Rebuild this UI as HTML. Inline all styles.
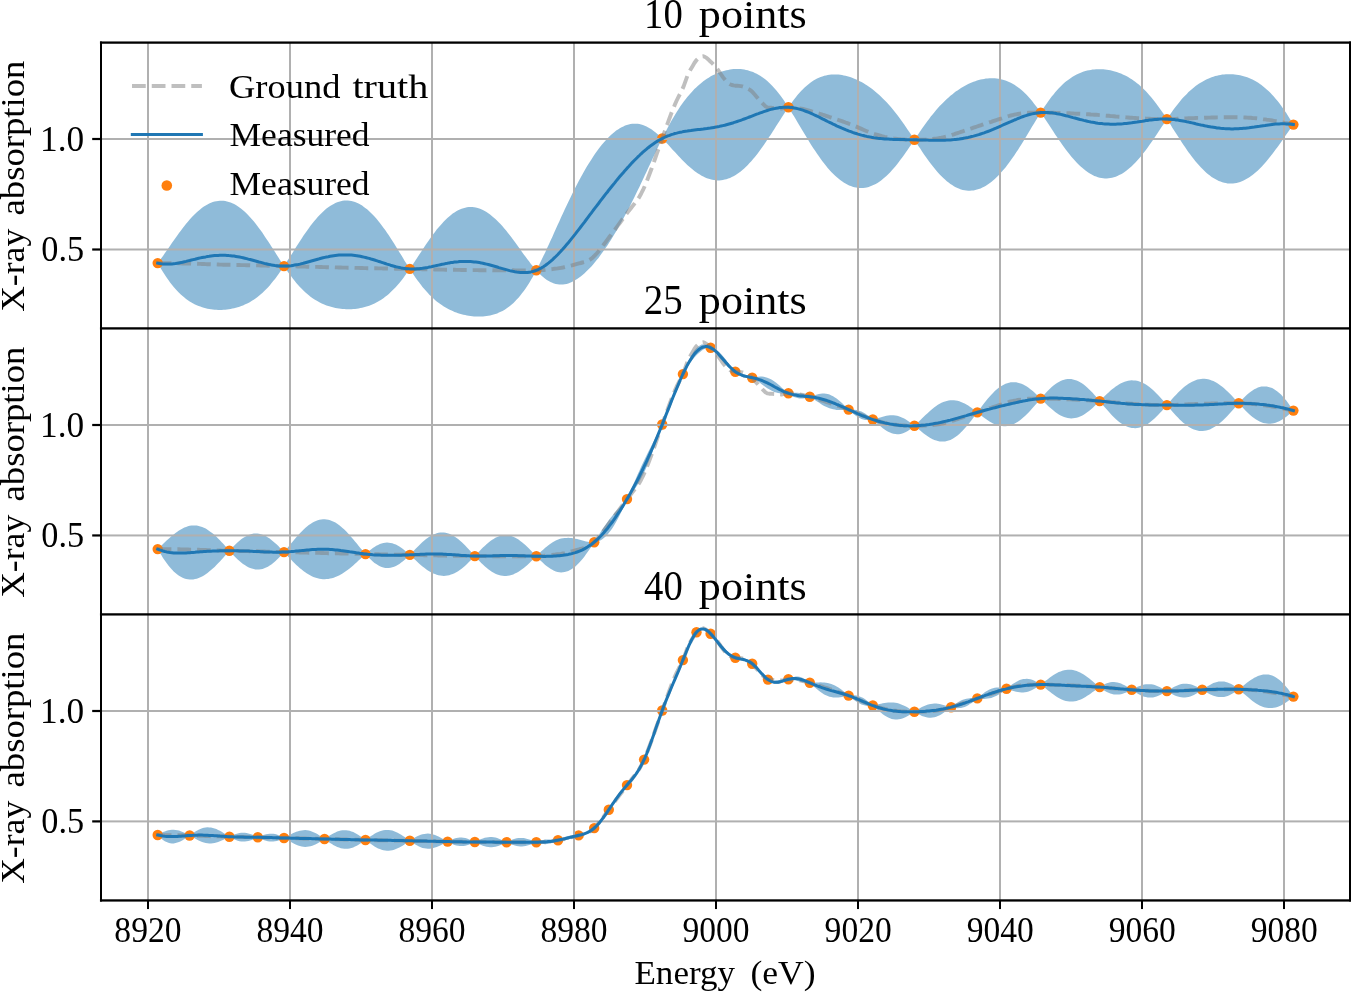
<!DOCTYPE html>
<html lang="en"><head><meta charset="utf-8"><title>Adaptive sampling: 10 / 25 / 40 points</title>
<style>html,body{margin:0;padding:0;background:#fff}svg{display:block}</style></head>
<body>
<svg width="1351" height="993" viewBox="0 0 1351 993" font-family="'Liberation Serif', 'DejaVu Serif', serif" fill="#000">
<rect width="1351" height="993" fill="#fff"/>
<g id="panel1">
<clipPath id="c0"><rect x="101.0" y="42.6" width="1249.0" height="285.80"/></clipPath>
<g clip-path="url(#c0)">
<path d="M157.7 263.1 L159.5 260.8 L161.3 258.3 L163.0 255.9 L164.8 253.3 L166.6 250.8 L168.4 248.2 L170.1 245.7 L171.9 243.1 L173.7 240.6 L175.5 238.0 L177.3 235.5 L179.0 233.1 L180.8 230.7 L182.6 228.3 L184.4 226.0 L186.1 223.8 L187.9 221.7 L189.7 219.6 L191.5 217.6 L193.2 215.7 L195.0 214.0 L196.8 212.3 L198.6 210.7 L200.4 209.2 L202.1 207.8 L203.9 206.6 L205.7 205.5 L207.5 204.4 L209.2 203.5 L211.0 202.8 L212.8 202.1 L214.6 201.6 L216.4 201.2 L218.1 200.9 L219.9 200.7 L221.7 200.7 L223.5 200.8 L225.2 201.0 L227.0 201.4 L228.8 201.9 L230.6 202.5 L232.3 203.2 L234.1 204.1 L235.9 205.1 L237.7 206.2 L239.5 207.4 L241.2 208.7 L243.0 210.2 L244.8 211.8 L246.6 213.5 L248.3 215.3 L250.1 217.2 L251.9 219.2 L253.7 221.3 L255.5 223.5 L257.2 225.8 L259.0 228.2 L260.8 230.6 L262.6 233.1 L264.3 235.7 L266.1 238.4 L267.9 241.0 L269.7 243.8 L271.4 246.5 L273.2 249.3 L275.0 252.1 L276.8 254.9 L278.6 257.7 L280.3 260.5 L282.1 263.2 L283.9 265.9 L285.7 263.6 L287.4 260.8 L289.2 258.0 L291.0 255.2 L292.8 252.4 L294.6 249.6 L296.3 246.7 L298.1 244.0 L299.9 241.2 L301.7 238.5 L303.4 235.8 L305.2 233.2 L307.0 230.7 L308.8 228.2 L310.5 225.8 L312.3 223.5 L314.1 221.3 L315.9 219.2 L317.7 217.1 L319.4 215.2 L321.2 213.4 L323.0 211.7 L324.8 210.1 L326.5 208.6 L328.3 207.2 L330.1 206.0 L331.9 204.9 L333.7 203.9 L335.4 203.0 L337.2 202.3 L339.0 201.7 L340.8 201.2 L342.5 200.8 L344.3 200.6 L346.1 200.5 L347.9 200.6 L349.6 200.8 L351.4 201.1 L353.2 201.5 L355.0 202.1 L356.8 202.8 L358.5 203.6 L360.3 204.6 L362.1 205.6 L363.9 206.9 L365.6 208.2 L367.4 209.6 L369.2 211.2 L371.0 212.9 L372.8 214.7 L374.5 216.6 L376.3 218.6 L378.1 220.7 L379.9 223.0 L381.6 225.3 L383.4 227.7 L385.2 230.1 L387.0 232.7 L388.8 235.3 L390.5 238.0 L392.3 240.8 L394.1 243.6 L395.9 246.4 L397.6 249.3 L399.4 252.2 L401.2 255.1 L403.0 258.0 L404.7 260.9 L406.5 263.7 L408.3 266.6 L410.1 268.5 L411.9 265.9 L413.6 263.2 L415.4 260.5 L417.2 257.8 L419.0 255.1 L420.7 252.4 L422.5 249.7 L424.3 247.0 L426.1 244.3 L427.9 241.7 L429.6 239.2 L431.4 236.7 L433.2 234.3 L435.0 231.9 L436.7 229.6 L438.5 227.5 L440.3 225.4 L442.1 223.4 L443.8 221.5 L445.6 219.7 L447.4 218.0 L449.2 216.4 L451.0 215.0 L452.7 213.6 L454.5 212.4 L456.3 211.3 L458.1 210.3 L459.8 209.5 L461.6 208.7 L463.4 208.2 L465.2 207.7 L467.0 207.3 L468.7 207.1 L470.5 207.1 L472.3 207.1 L474.1 207.3 L475.8 207.6 L477.6 208.0 L479.4 208.6 L481.2 209.3 L482.9 210.1 L484.7 211.0 L486.5 212.0 L488.3 213.2 L490.1 214.5 L491.8 215.9 L493.6 217.4 L495.4 219.0 L497.2 220.7 L498.9 222.5 L500.7 224.3 L502.5 226.3 L504.3 228.4 L506.1 230.5 L507.8 232.7 L509.6 235.0 L511.4 237.3 L513.2 239.7 L514.9 242.1 L516.7 244.5 L518.5 247.0 L520.3 249.4 L522.0 251.9 L523.8 254.4 L525.6 256.8 L527.4 259.2 L529.2 261.6 L530.9 263.9 L532.7 266.1 L534.5 268.2 L536.3 270.3 L538.0 267.0 L539.8 263.4 L541.6 259.8 L543.4 256.1 L545.2 252.4 L546.9 248.5 L548.7 244.7 L550.5 240.8 L552.3 236.9 L554.0 233.0 L555.8 229.0 L557.6 225.1 L559.4 221.2 L561.1 217.3 L562.9 213.4 L564.7 209.6 L566.5 205.8 L568.3 202.1 L570.0 198.4 L571.8 194.7 L573.6 191.1 L575.4 187.6 L577.1 184.2 L578.9 180.8 L580.7 177.5 L582.5 174.3 L584.3 171.1 L586.0 168.1 L587.8 165.1 L589.6 162.2 L591.4 159.4 L593.1 156.7 L594.9 154.1 L596.7 151.5 L598.5 149.1 L600.2 146.8 L602.0 144.6 L603.8 142.5 L605.6 140.4 L607.4 138.5 L609.1 136.7 L610.9 135.0 L612.7 133.4 L614.5 132.0 L616.2 130.6 L618.0 129.4 L619.8 128.3 L621.6 127.3 L623.4 126.4 L625.1 125.6 L626.9 125.0 L628.7 124.5 L630.5 124.1 L632.2 123.8 L634.0 123.7 L635.8 123.7 L637.6 123.8 L639.4 124.1 L641.1 124.5 L642.9 125.0 L644.7 125.7 L646.5 126.5 L648.2 127.4 L650.0 128.4 L651.8 129.6 L653.6 130.9 L655.3 132.3 L657.1 133.8 L658.9 135.3 L660.7 137.0 L662.5 138.0 L664.2 134.4 L666.0 131.0 L667.8 127.6 L669.6 124.3 L671.3 121.1 L673.1 118.0 L674.9 115.0 L676.7 112.1 L678.5 109.3 L680.2 106.6 L682.0 104.1 L683.8 101.6 L685.6 99.3 L687.3 97.0 L689.1 94.9 L690.9 92.9 L692.7 90.9 L694.4 89.1 L696.2 87.4 L698.0 85.7 L699.8 84.2 L701.6 82.7 L703.3 81.3 L705.1 80.0 L706.9 78.8 L708.7 77.7 L710.4 76.6 L712.2 75.6 L714.0 74.7 L715.8 73.9 L717.6 73.1 L719.3 72.4 L721.1 71.8 L722.9 71.2 L724.7 70.7 L726.4 70.2 L728.2 69.9 L730.0 69.6 L731.8 69.3 L733.5 69.1 L735.3 69.0 L737.1 69.0 L738.9 69.0 L740.7 69.1 L742.4 69.3 L744.2 69.6 L746.0 69.9 L747.8 70.3 L749.5 70.9 L751.3 71.4 L753.1 72.1 L754.9 72.9 L756.7 73.8 L758.4 74.7 L760.2 75.8 L762.0 77.0 L763.8 78.2 L765.5 79.6 L767.3 81.1 L769.1 82.7 L770.9 84.5 L772.6 86.3 L774.4 88.2 L776.2 90.3 L778.0 92.5 L779.8 94.8 L781.5 97.1 L783.3 99.6 L785.1 102.2 L786.9 104.9 L788.6 106.9 L790.4 104.4 L792.2 101.9 L794.0 99.5 L795.8 97.3 L797.5 95.1 L799.3 93.0 L801.1 91.1 L802.9 89.2 L804.6 87.5 L806.4 85.9 L808.2 84.4 L810.0 83.0 L811.7 81.7 L813.5 80.6 L815.3 79.5 L817.1 78.6 L818.9 77.8 L820.6 77.0 L822.4 76.4 L824.2 75.8 L826.0 75.4 L827.7 75.0 L829.5 74.7 L831.3 74.6 L833.1 74.4 L834.9 74.4 L836.6 74.5 L838.4 74.6 L840.2 74.8 L842.0 75.0 L843.7 75.4 L845.5 75.7 L847.3 76.2 L849.1 76.7 L850.9 77.3 L852.6 78.0 L854.4 78.7 L856.2 79.4 L858.0 80.3 L859.7 81.2 L861.5 82.1 L863.3 83.1 L865.1 84.2 L866.8 85.3 L868.6 86.5 L870.4 87.8 L872.2 89.1 L874.0 90.5 L875.7 91.9 L877.5 93.5 L879.3 95.1 L881.1 96.7 L882.8 98.4 L884.6 100.2 L886.4 102.1 L888.2 104.0 L890.0 106.0 L891.7 108.1 L893.5 110.3 L895.3 112.5 L897.1 114.7 L898.8 117.1 L900.6 119.5 L902.4 122.0 L904.2 124.5 L905.9 127.1 L907.7 129.7 L909.5 132.3 L911.3 135.0 L913.1 137.7 L914.8 139.2 L916.6 136.5 L918.4 133.9 L920.2 131.3 L921.9 128.7 L923.7 126.2 L925.5 123.7 L927.3 121.3 L929.1 118.9 L930.8 116.6 L932.6 114.4 L934.4 112.2 L936.2 110.1 L937.9 108.1 L939.7 106.1 L941.5 104.2 L943.3 102.4 L945.0 100.7 L946.8 99.0 L948.6 97.4 L950.4 95.8 L952.2 94.4 L953.9 93.0 L955.7 91.6 L957.5 90.4 L959.3 89.2 L961.0 88.0 L962.8 86.9 L964.6 85.9 L966.4 85.0 L968.2 84.1 L969.9 83.3 L971.7 82.5 L973.5 81.8 L975.3 81.2 L977.0 80.6 L978.8 80.1 L980.6 79.6 L982.4 79.2 L984.1 78.9 L985.9 78.6 L987.7 78.4 L989.5 78.3 L991.3 78.2 L993.0 78.2 L994.8 78.3 L996.6 78.5 L998.4 78.7 L1000.1 79.0 L1001.9 79.4 L1003.7 79.9 L1005.5 80.5 L1007.3 81.2 L1009.0 81.9 L1010.8 82.8 L1012.6 83.7 L1014.4 84.8 L1016.1 85.9 L1017.9 87.2 L1019.7 88.6 L1021.5 90.0 L1023.2 91.6 L1025.0 93.3 L1026.8 95.1 L1028.6 97.0 L1030.4 99.0 L1032.1 101.1 L1033.9 103.4 L1035.7 105.7 L1037.5 108.0 L1039.2 110.5 L1041.0 112.1 L1042.8 109.3 L1044.6 106.6 L1046.4 104.0 L1048.1 101.4 L1049.9 99.0 L1051.7 96.6 L1053.5 94.4 L1055.2 92.3 L1057.0 90.2 L1058.8 88.3 L1060.6 86.5 L1062.3 84.8 L1064.1 83.1 L1065.9 81.6 L1067.7 80.2 L1069.5 78.9 L1071.2 77.7 L1073.0 76.6 L1074.8 75.5 L1076.6 74.6 L1078.3 73.7 L1080.1 72.9 L1081.9 72.3 L1083.7 71.6 L1085.5 71.1 L1087.2 70.6 L1089.0 70.2 L1090.8 69.9 L1092.6 69.6 L1094.3 69.4 L1096.1 69.3 L1097.9 69.2 L1099.7 69.2 L1101.5 69.2 L1103.2 69.3 L1105.0 69.5 L1106.8 69.7 L1108.6 70.0 L1110.3 70.3 L1112.1 70.7 L1113.9 71.2 L1115.7 71.7 L1117.4 72.3 L1119.2 72.9 L1121.0 73.6 L1122.8 74.4 L1124.6 75.2 L1126.3 76.1 L1128.1 77.1 L1129.9 78.2 L1131.7 79.3 L1133.4 80.5 L1135.2 81.8 L1137.0 83.2 L1138.8 84.6 L1140.6 86.2 L1142.3 87.8 L1144.1 89.5 L1145.9 91.3 L1147.7 93.2 L1149.4 95.2 L1151.2 97.3 L1153.0 99.5 L1154.8 101.7 L1156.5 104.0 L1158.3 106.5 L1160.1 109.0 L1161.9 111.5 L1163.7 114.1 L1165.4 116.8 L1167.2 118.6 L1169.0 116.0 L1170.8 113.5 L1172.5 111.0 L1174.3 108.6 L1176.1 106.2 L1177.9 103.9 L1179.7 101.7 L1181.4 99.6 L1183.2 97.6 L1185.0 95.7 L1186.8 93.9 L1188.5 92.1 L1190.3 90.5 L1192.1 88.9 L1193.9 87.4 L1195.6 86.0 L1197.4 84.7 L1199.2 83.5 L1201.0 82.4 L1202.8 81.4 L1204.5 80.4 L1206.3 79.5 L1208.1 78.7 L1209.9 77.9 L1211.6 77.3 L1213.4 76.7 L1215.2 76.1 L1217.0 75.7 L1218.8 75.3 L1220.5 74.9 L1222.3 74.6 L1224.1 74.4 L1225.9 74.3 L1227.6 74.2 L1229.4 74.2 L1231.2 74.2 L1233.0 74.3 L1234.7 74.4 L1236.5 74.7 L1238.3 74.9 L1240.1 75.3 L1241.9 75.7 L1243.6 76.2 L1245.4 76.7 L1247.2 77.3 L1249.0 78.0 L1250.7 78.8 L1252.5 79.6 L1254.3 80.6 L1256.1 81.6 L1257.9 82.6 L1259.6 83.8 L1261.4 85.1 L1263.2 86.4 L1265.0 87.9 L1266.7 89.4 L1268.5 91.1 L1270.3 92.8 L1272.1 94.7 L1273.8 96.6 L1275.6 98.7 L1277.4 100.8 L1279.2 103.1 L1281.0 105.4 L1282.7 107.9 L1284.5 110.5 L1286.3 113.1 L1288.1 115.9 L1289.8 118.7 L1291.6 121.6 L1293.4 124.6 L1293.4 124.6 L1291.6 127.0 L1289.8 129.5 L1288.1 132.1 L1286.3 134.6 L1284.5 137.1 L1282.7 139.7 L1281.0 142.2 L1279.2 144.7 L1277.4 147.2 L1275.6 149.6 L1273.8 152.0 L1272.1 154.3 L1270.3 156.6 L1268.5 158.8 L1266.7 161.0 L1265.0 163.0 L1263.2 165.0 L1261.4 166.9 L1259.6 168.7 L1257.9 170.4 L1256.1 172.0 L1254.3 173.6 L1252.5 175.0 L1250.7 176.3 L1249.0 177.5 L1247.2 178.6 L1245.4 179.6 L1243.6 180.5 L1241.9 181.3 L1240.1 181.9 L1238.3 182.5 L1236.5 182.9 L1234.7 183.2 L1233.0 183.4 L1231.2 183.5 L1229.4 183.5 L1227.6 183.4 L1225.9 183.1 L1224.1 182.7 L1222.3 182.2 L1220.5 181.6 L1218.8 180.9 L1217.0 180.1 L1215.2 179.1 L1213.4 178.0 L1211.6 176.9 L1209.9 175.6 L1208.1 174.2 L1206.3 172.7 L1204.5 171.0 L1202.8 169.3 L1201.0 167.5 L1199.2 165.6 L1197.4 163.6 L1195.6 161.5 L1193.9 159.3 L1192.1 157.0 L1190.3 154.6 L1188.5 152.2 L1186.8 149.7 L1185.0 147.1 L1183.2 144.5 L1181.4 141.8 L1179.7 139.1 L1177.9 136.3 L1176.1 133.5 L1174.3 130.7 L1172.5 127.9 L1170.8 125.1 L1169.0 122.3 L1167.2 119.6 L1165.4 121.3 L1163.7 123.9 L1161.9 126.6 L1160.1 129.3 L1158.3 132.0 L1156.5 134.7 L1154.8 137.3 L1153.0 139.9 L1151.2 142.5 L1149.4 145.0 L1147.7 147.5 L1145.9 149.9 L1144.1 152.2 L1142.3 154.5 L1140.6 156.7 L1138.8 158.8 L1137.0 160.8 L1135.2 162.7 L1133.4 164.5 L1131.7 166.2 L1129.9 167.8 L1128.1 169.3 L1126.3 170.7 L1124.6 172.0 L1122.8 173.2 L1121.0 174.2 L1119.2 175.1 L1117.4 176.0 L1115.7 176.7 L1113.9 177.3 L1112.1 177.7 L1110.3 178.1 L1108.6 178.3 L1106.8 178.4 L1105.0 178.4 L1103.2 178.3 L1101.5 178.0 L1099.7 177.7 L1097.9 177.2 L1096.1 176.6 L1094.3 175.9 L1092.6 175.0 L1090.8 174.1 L1089.0 173.0 L1087.2 171.8 L1085.5 170.5 L1083.7 169.1 L1081.9 167.6 L1080.1 166.0 L1078.3 164.3 L1076.6 162.5 L1074.8 160.5 L1073.0 158.5 L1071.2 156.4 L1069.5 154.3 L1067.7 152.0 L1065.9 149.7 L1064.1 147.3 L1062.3 144.8 L1060.6 142.3 L1058.8 139.7 L1057.0 137.1 L1055.2 134.4 L1053.5 131.7 L1051.7 129.0 L1049.9 126.3 L1048.1 123.6 L1046.4 120.9 L1044.6 118.3 L1042.8 115.6 L1041.0 113.0 L1039.2 114.9 L1037.5 117.8 L1035.7 120.7 L1033.9 123.7 L1032.1 126.6 L1030.4 129.6 L1028.6 132.6 L1026.8 135.6 L1025.0 138.5 L1023.2 141.4 L1021.5 144.3 L1019.7 147.1 L1017.9 149.9 L1016.1 152.6 L1014.4 155.2 L1012.6 157.8 L1010.8 160.3 L1009.0 162.8 L1007.3 165.1 L1005.5 167.4 L1003.7 169.5 L1001.9 171.6 L1000.1 173.6 L998.4 175.5 L996.6 177.2 L994.8 178.9 L993.0 180.5 L991.3 182.0 L989.5 183.3 L987.7 184.5 L985.9 185.7 L984.1 186.7 L982.4 187.6 L980.6 188.4 L978.8 189.1 L977.0 189.6 L975.3 190.1 L973.5 190.4 L971.7 190.6 L969.9 190.7 L968.2 190.7 L966.4 190.5 L964.6 190.2 L962.8 189.9 L961.0 189.4 L959.3 188.7 L957.5 188.0 L955.7 187.2 L953.9 186.2 L952.2 185.1 L950.4 183.9 L948.6 182.6 L946.8 181.2 L945.0 179.6 L943.3 178.0 L941.5 176.3 L939.7 174.4 L937.9 172.5 L936.2 170.4 L934.4 168.3 L932.6 166.1 L930.8 163.8 L929.1 161.4 L927.3 158.9 L925.5 156.4 L923.7 153.9 L921.9 151.2 L920.2 148.6 L918.4 145.9 L916.6 143.2 L914.8 140.5 L913.1 141.8 L911.3 144.4 L909.5 147.1 L907.7 149.7 L905.9 152.2 L904.2 154.8 L902.4 157.2 L900.6 159.6 L898.8 162.0 L897.1 164.2 L895.3 166.4 L893.5 168.5 L891.7 170.5 L890.0 172.4 L888.2 174.2 L886.4 175.9 L884.6 177.5 L882.8 179.0 L881.1 180.4 L879.3 181.7 L877.5 182.9 L875.7 183.9 L874.0 184.8 L872.2 185.6 L870.4 186.3 L868.6 186.9 L866.8 187.4 L865.1 187.7 L863.3 187.9 L861.5 188.0 L859.7 188.0 L858.0 187.9 L856.2 187.6 L854.4 187.2 L852.6 186.7 L850.9 186.1 L849.1 185.4 L847.3 184.6 L845.5 183.6 L843.7 182.5 L842.0 181.3 L840.2 180.0 L838.4 178.6 L836.6 177.1 L834.9 175.5 L833.1 173.7 L831.3 171.9 L829.5 169.9 L827.7 167.9 L826.0 165.8 L824.2 163.5 L822.4 161.2 L820.6 158.8 L818.9 156.3 L817.1 153.8 L815.3 151.1 L813.5 148.4 L811.7 145.7 L810.0 142.9 L808.2 140.0 L806.4 137.1 L804.6 134.1 L802.9 131.2 L801.1 128.2 L799.3 125.2 L797.5 122.2 L795.8 119.2 L794.0 116.3 L792.2 113.4 L790.4 110.5 L788.6 107.7 L786.9 109.5 L785.1 112.2 L783.3 114.9 L781.5 117.7 L779.8 120.5 L778.0 123.3 L776.2 126.1 L774.4 128.9 L772.6 131.7 L770.9 134.4 L769.1 137.1 L767.3 139.8 L765.5 142.5 L763.8 145.1 L762.0 147.6 L760.2 150.0 L758.4 152.4 L756.7 154.7 L754.9 157.0 L753.1 159.1 L751.3 161.2 L749.5 163.1 L747.8 165.0 L746.0 166.7 L744.2 168.4 L742.4 170.0 L740.7 171.4 L738.9 172.8 L737.1 174.0 L735.3 175.2 L733.5 176.2 L731.8 177.1 L730.0 177.9 L728.2 178.6 L726.4 179.2 L724.7 179.6 L722.9 180.0 L721.1 180.2 L719.3 180.4 L717.6 180.4 L715.8 180.3 L714.0 180.1 L712.2 179.8 L710.4 179.3 L708.7 178.8 L706.9 178.2 L705.1 177.4 L703.3 176.6 L701.6 175.7 L699.8 174.6 L698.0 173.5 L696.2 172.3 L694.4 171.0 L692.7 169.6 L690.9 168.1 L689.1 166.5 L687.3 164.9 L685.6 163.2 L683.8 161.5 L682.0 159.7 L680.2 157.8 L678.5 156.0 L676.7 154.1 L674.9 152.1 L673.1 150.2 L671.3 148.2 L669.6 146.3 L667.8 144.3 L666.0 142.4 L664.2 140.6 L662.5 138.8 L660.7 141.6 L658.9 145.3 L657.1 149.0 L655.3 152.8 L653.6 156.6 L651.8 160.4 L650.0 164.2 L648.2 168.0 L646.5 171.8 L644.7 175.6 L642.9 179.4 L641.1 183.2 L639.4 186.9 L637.6 190.6 L635.8 194.3 L634.0 197.9 L632.2 201.5 L630.5 205.0 L628.7 208.5 L626.9 211.9 L625.1 215.2 L623.4 218.5 L621.6 221.8 L619.8 225.0 L618.0 228.1 L616.2 231.2 L614.5 234.1 L612.7 237.1 L610.9 239.9 L609.1 242.7 L607.4 245.4 L605.6 248.1 L603.8 250.6 L602.0 253.1 L600.2 255.5 L598.5 257.9 L596.7 260.1 L594.9 262.3 L593.1 264.4 L591.4 266.4 L589.6 268.3 L587.8 270.1 L586.0 271.8 L584.3 273.5 L582.5 275.0 L580.7 276.5 L578.9 277.8 L577.1 279.0 L575.4 280.1 L573.6 281.1 L571.8 282.0 L570.0 282.7 L568.3 283.4 L566.5 283.9 L564.7 284.2 L562.9 284.5 L561.1 284.5 L559.4 284.5 L557.6 284.3 L555.8 283.9 L554.0 283.4 L552.3 282.8 L550.5 282.0 L548.7 281.0 L546.9 279.9 L545.2 278.7 L543.4 277.3 L541.6 275.7 L539.8 274.0 L538.0 272.2 L536.3 270.4 L534.5 273.7 L532.7 276.9 L530.9 280.0 L529.2 282.9 L527.4 285.7 L525.6 288.4 L523.8 290.9 L522.0 293.3 L520.3 295.6 L518.5 297.7 L516.7 299.6 L514.9 301.5 L513.2 303.2 L511.4 304.7 L509.6 306.2 L507.8 307.5 L506.1 308.8 L504.3 309.9 L502.5 310.9 L500.7 311.8 L498.9 312.6 L497.2 313.4 L495.4 314.0 L493.6 314.6 L491.8 315.1 L490.1 315.5 L488.3 315.8 L486.5 316.1 L484.7 316.3 L482.9 316.5 L481.2 316.6 L479.4 316.6 L477.6 316.6 L475.8 316.6 L474.1 316.5 L472.3 316.3 L470.5 316.1 L468.7 315.8 L467.0 315.5 L465.2 315.1 L463.4 314.7 L461.6 314.3 L459.8 313.7 L458.1 313.2 L456.3 312.6 L454.5 311.9 L452.7 311.1 L451.0 310.3 L449.2 309.5 L447.4 308.5 L445.6 307.5 L443.8 306.5 L442.1 305.3 L440.3 304.1 L438.5 302.8 L436.7 301.4 L435.0 299.9 L433.2 298.3 L431.4 296.6 L429.6 294.9 L427.9 293.0 L426.1 291.1 L424.3 289.0 L422.5 286.9 L420.7 284.6 L419.0 282.3 L417.2 279.9 L415.4 277.4 L413.6 274.8 L411.9 272.1 L410.1 269.4 L408.3 271.1 L406.5 273.6 L404.7 276.0 L403.0 278.4 L401.2 280.7 L399.4 282.9 L397.6 284.9 L395.9 286.9 L394.1 288.8 L392.3 290.6 L390.5 292.3 L388.8 293.9 L387.0 295.4 L385.2 296.8 L383.4 298.2 L381.6 299.4 L379.9 300.5 L378.1 301.6 L376.3 302.6 L374.5 303.4 L372.8 304.3 L371.0 305.0 L369.2 305.7 L367.4 306.3 L365.6 306.8 L363.9 307.3 L362.1 307.8 L360.3 308.1 L358.5 308.4 L356.8 308.7 L355.0 308.9 L353.2 309.1 L351.4 309.2 L349.6 309.2 L347.9 309.2 L346.1 309.2 L344.3 309.1 L342.5 309.0 L340.8 308.8 L339.0 308.6 L337.2 308.3 L335.4 308.0 L333.7 307.6 L331.9 307.1 L330.1 306.6 L328.3 306.1 L326.5 305.5 L324.8 304.8 L323.0 304.0 L321.2 303.2 L319.4 302.3 L317.7 301.3 L315.9 300.3 L314.1 299.2 L312.3 298.0 L310.5 296.7 L308.8 295.3 L307.0 293.8 L305.2 292.2 L303.4 290.5 L301.7 288.8 L299.9 286.9 L298.1 284.9 L296.3 282.9 L294.6 280.7 L292.8 278.5 L291.0 276.1 L289.2 273.7 L287.4 271.2 L285.7 268.6 L283.9 266.3 L282.1 268.9 L280.3 271.5 L278.6 274.1 L276.8 276.5 L275.0 278.9 L273.2 281.1 L271.4 283.3 L269.7 285.4 L267.9 287.4 L266.1 289.2 L264.3 291.0 L262.6 292.7 L260.8 294.3 L259.0 295.8 L257.2 297.2 L255.5 298.5 L253.7 299.7 L251.9 300.8 L250.1 301.9 L248.3 302.9 L246.6 303.8 L244.8 304.6 L243.0 305.4 L241.2 306.1 L239.5 306.7 L237.7 307.3 L235.9 307.8 L234.1 308.2 L232.3 308.6 L230.6 309.0 L228.8 309.2 L227.0 309.5 L225.2 309.7 L223.5 309.8 L221.7 309.9 L219.9 309.9 L218.1 309.9 L216.4 309.8 L214.6 309.7 L212.8 309.5 L211.0 309.3 L209.2 309.0 L207.5 308.7 L205.7 308.3 L203.9 307.8 L202.1 307.2 L200.4 306.6 L198.6 306.0 L196.8 305.2 L195.0 304.4 L193.2 303.5 L191.5 302.5 L189.7 301.4 L187.9 300.2 L186.1 298.9 L184.4 297.5 L182.6 296.0 L180.8 294.4 L179.0 292.7 L177.3 290.9 L175.5 289.0 L173.7 286.9 L171.9 284.7 L170.1 282.4 L168.4 280.0 L166.6 277.5 L164.8 274.8 L163.0 272.1 L161.3 269.2 L159.5 266.2 L157.7 263.1 Z" fill="#1f77b4" fill-opacity="0.5"/>
<circle cx="157.7" cy="263.1" r="5.2" fill="#ff7f0e"/>
<circle cx="284.0" cy="266.1" r="5.2" fill="#ff7f0e"/>
<circle cx="409.8" cy="268.9" r="5.2" fill="#ff7f0e"/>
<circle cx="536.3" cy="270.3" r="5.2" fill="#ff7f0e"/>
<circle cx="662.2" cy="138.5" r="5.2" fill="#ff7f0e"/>
<circle cx="788.4" cy="107.3" r="5.2" fill="#ff7f0e"/>
<circle cx="914.4" cy="139.8" r="5.2" fill="#ff7f0e"/>
<circle cx="1040.7" cy="112.6" r="5.2" fill="#ff7f0e"/>
<circle cx="1166.9" cy="119.1" r="5.2" fill="#ff7f0e"/>
<circle cx="1293.4" cy="124.6" r="5.2" fill="#ff7f0e"/>
<rect x="147" y="42.6" width="2.0" height="285.80" fill="#b0b0b0"/>
<rect x="289" y="42.6" width="2.0" height="285.80" fill="#b0b0b0"/>
<rect x="431" y="42.6" width="2.0" height="285.80" fill="#b0b0b0"/>
<rect x="573" y="42.6" width="2.0" height="285.80" fill="#b0b0b0"/>
<rect x="715" y="42.6" width="2.0" height="285.80" fill="#b0b0b0"/>
<rect x="857" y="42.6" width="2.0" height="285.80" fill="#b0b0b0"/>
<rect x="999" y="42.6" width="2.0" height="285.80" fill="#b0b0b0"/>
<rect x="1141" y="42.6" width="2.0" height="285.80" fill="#b0b0b0"/>
<rect x="1283" y="42.6" width="2.0" height="285.80" fill="#b0b0b0"/>
<rect x="101.0" y="138.00" width="1249.0" height="2.0" fill="#b0b0b0"/>
<rect x="101.0" y="248.50" width="1249.0" height="2.0" fill="#b0b0b0"/>
<path d="M157.7 263.1 L159.5 263.1 L161.3 263.1 L163.0 263.2 L164.8 263.2 L166.6 263.2 L168.4 263.2 L170.1 263.2 L171.9 263.3 L173.7 263.3 L175.5 263.3 L177.3 263.4 L179.0 263.4 L180.8 263.4 L182.6 263.5 L184.4 263.5 L186.1 263.5 L187.9 263.6 L189.7 263.6 L191.5 263.7 L193.2 263.7 L195.0 263.8 L196.8 263.8 L198.6 263.9 L200.4 263.9 L202.1 264.0 L203.9 264.0 L205.7 264.1 L207.5 264.2 L209.2 264.2 L211.0 264.3 L212.8 264.3 L214.6 264.4 L216.4 264.4 L218.1 264.5 L219.9 264.6 L221.7 264.6 L223.5 264.7 L225.2 264.7 L227.0 264.8 L228.8 264.8 L230.6 264.8 L232.3 264.9 L234.1 264.9 L235.9 265.0 L237.7 265.0 L239.5 265.0 L241.2 265.1 L243.0 265.1 L244.8 265.1 L246.6 265.2 L248.3 265.2 L250.1 265.2 L251.9 265.3 L253.7 265.3 L255.5 265.4 L257.2 265.4 L259.0 265.4 L260.8 265.5 L262.6 265.5 L264.3 265.6 L266.1 265.6 L267.9 265.7 L269.7 265.7 L271.4 265.8 L273.2 265.8 L275.0 265.9 L276.8 265.9 L278.6 266.0 L280.3 266.0 L282.1 266.1 L283.9 266.1 L285.7 266.2 L287.4 266.2 L289.2 266.2 L291.0 266.3 L292.8 266.3 L294.6 266.4 L296.3 266.4 L298.1 266.5 L299.9 266.5 L301.7 266.6 L303.4 266.6 L305.2 266.6 L307.0 266.7 L308.8 266.7 L310.5 266.8 L312.3 266.8 L314.1 266.9 L315.9 266.9 L317.7 266.9 L319.4 267.0 L321.2 267.0 L323.0 267.1 L324.8 267.1 L326.5 267.2 L328.3 267.2 L330.1 267.3 L331.9 267.3 L333.7 267.3 L335.4 267.4 L337.2 267.4 L339.0 267.5 L340.8 267.5 L342.5 267.6 L344.3 267.6 L346.1 267.6 L347.9 267.7 L349.6 267.7 L351.4 267.8 L353.2 267.8 L355.0 267.9 L356.8 267.9 L358.5 267.9 L360.3 268.0 L362.1 268.0 L363.9 268.1 L365.6 268.1 L367.4 268.2 L369.2 268.2 L371.0 268.2 L372.8 268.3 L374.5 268.3 L376.3 268.3 L378.1 268.4 L379.9 268.4 L381.6 268.4 L383.4 268.5 L385.2 268.5 L387.0 268.5 L388.8 268.6 L390.5 268.6 L392.3 268.6 L394.1 268.6 L395.9 268.7 L397.6 268.7 L399.4 268.7 L401.2 268.8 L403.0 268.8 L404.7 268.8 L406.5 268.9 L408.3 268.9 L410.1 268.9 L411.9 269.0 L413.6 269.0 L415.4 269.0 L417.2 269.1 L419.0 269.1 L420.7 269.1 L422.5 269.2 L424.3 269.2 L426.1 269.3 L427.9 269.3 L429.6 269.3 L431.4 269.4 L433.2 269.4 L435.0 269.5 L436.7 269.5 L438.5 269.5 L440.3 269.6 L442.1 269.6 L443.8 269.6 L445.6 269.7 L447.4 269.7 L449.2 269.7 L451.0 269.8 L452.7 269.8 L454.5 269.8 L456.3 269.9 L458.1 269.9 L459.8 269.9 L461.6 270.0 L463.4 270.0 L465.2 270.0 L467.0 270.0 L468.7 270.0 L470.5 270.1 L472.3 270.1 L474.1 270.1 L475.8 270.1 L477.6 270.1 L479.4 270.2 L481.2 270.2 L482.9 270.2 L484.7 270.2 L486.5 270.2 L488.3 270.2 L490.1 270.2 L491.8 270.2 L493.6 270.3 L495.4 270.3 L497.2 270.3 L498.9 270.3 L500.7 270.3 L502.5 270.3 L504.3 270.3 L506.1 270.3 L507.8 270.3 L509.6 270.3 L511.4 270.3 L513.2 270.3 L514.9 270.4 L516.7 270.4 L518.5 270.4 L520.3 270.4 L522.0 270.4 L523.8 270.4 L525.6 270.4 L527.4 270.3 L529.2 270.3 L530.9 270.3 L532.7 270.3 L534.5 270.3 L536.3 270.3 L538.0 270.3 L539.8 270.2 L541.6 270.1 L543.4 270.0 L545.2 269.9 L546.9 269.7 L548.7 269.5 L550.5 269.3 L552.3 269.1 L554.0 268.8 L555.8 268.6 L557.6 268.4 L559.4 268.1 L561.1 267.8 L562.9 267.5 L564.7 267.1 L566.5 266.7 L568.3 266.3 L570.0 265.8 L571.8 265.4 L573.6 264.9 L575.4 264.4 L577.1 263.9 L578.9 263.4 L580.7 263.0 L582.5 262.5 L584.3 262.1 L586.0 261.5 L587.8 260.8 L589.6 259.9 L591.4 258.7 L593.1 257.2 L594.9 255.4 L596.7 253.5 L598.5 251.4 L600.2 249.1 L602.0 246.9 L603.8 244.5 L605.6 242.1 L607.4 239.7 L609.1 237.3 L610.9 235.0 L612.7 232.6 L614.5 230.2 L616.2 227.8 L618.0 225.4 L619.8 223.0 L621.6 220.5 L623.4 218.1 L625.1 215.7 L626.9 213.3 L628.7 210.9 L630.5 208.7 L632.2 206.5 L634.0 204.3 L635.8 202.0 L637.6 199.5 L639.4 196.8 L641.1 193.7 L642.9 190.2 L644.7 186.3 L646.5 182.0 L648.2 177.5 L650.0 172.8 L651.8 168.0 L653.6 163.0 L655.3 158.0 L657.1 152.9 L658.9 147.8 L660.7 142.8 L662.5 137.8 L664.2 132.8 L666.0 127.8 L667.8 122.9 L669.6 118.0 L671.3 113.3 L673.1 108.9 L674.9 104.6 L676.7 100.5 L678.5 96.9 L680.2 93.6 L682.0 90.0 L683.8 85.9 L685.6 80.9 L687.3 76.0 L689.1 72.3 L690.9 68.9 L692.7 65.9 L694.4 63.0 L696.2 60.5 L698.0 58.7 L699.8 57.5 L701.6 56.5 L703.3 56.2 L705.1 57.0 L706.9 58.2 L708.7 59.8 L710.4 61.5 L712.2 63.2 L714.0 65.0 L715.8 67.0 L717.6 69.3 L719.3 71.8 L721.1 74.5 L722.9 77.1 L724.7 79.4 L726.4 81.5 L728.2 83.2 L730.0 84.3 L731.8 85.0 L733.5 85.4 L735.3 85.7 L737.1 85.8 L738.9 85.9 L740.7 86.1 L742.4 86.4 L744.2 87.0 L746.0 87.8 L747.8 88.7 L749.5 89.6 L751.3 90.8 L753.1 92.7 L754.9 94.8 L756.7 96.9 L758.4 98.8 L760.2 100.8 L762.0 102.7 L763.8 104.7 L765.5 106.4 L767.3 107.4 L769.1 107.7 L770.9 107.8 L772.6 107.9 L774.4 108.0 L776.2 108.1 L778.0 108.3 L779.8 108.4 L781.5 108.5 L783.3 108.2 L785.1 107.7 L786.9 107.4 L788.6 107.3 L790.4 107.4 L792.2 107.5 L794.0 107.6 L795.8 107.8 L797.5 108.1 L799.3 108.4 L801.1 108.7 L802.9 109.0 L804.6 109.4 L806.4 109.8 L808.2 110.3 L810.0 110.8 L811.7 111.4 L813.5 111.9 L815.3 112.4 L817.1 113.0 L818.9 113.5 L820.6 114.1 L822.4 114.7 L824.2 115.2 L826.0 115.8 L827.7 116.4 L829.5 117.0 L831.3 117.6 L833.1 118.2 L834.9 118.8 L836.6 119.4 L838.4 120.0 L840.2 120.6 L842.0 121.2 L843.7 121.8 L845.5 122.5 L847.3 123.1 L849.1 123.8 L850.9 124.4 L852.6 125.1 L854.4 125.9 L856.2 126.6 L858.0 127.4 L859.7 128.1 L861.5 128.9 L863.3 129.7 L865.1 130.5 L866.8 131.2 L868.6 131.9 L870.4 132.6 L872.2 133.3 L874.0 133.9 L875.7 134.5 L877.5 135.0 L879.3 135.5 L881.1 136.0 L882.8 136.5 L884.6 136.9 L886.4 137.2 L888.2 137.6 L890.0 137.9 L891.7 138.2 L893.5 138.5 L895.3 138.7 L897.1 138.9 L898.8 139.1 L900.6 139.3 L902.4 139.4 L904.2 139.5 L905.9 139.6 L907.7 139.7 L909.5 139.7 L911.3 139.8 L913.1 139.8 L914.8 139.8 L916.6 139.8 L918.4 139.8 L920.2 139.7 L921.9 139.7 L923.7 139.6 L925.5 139.6 L927.3 139.5 L929.1 139.3 L930.8 139.2 L932.6 139.0 L934.4 138.8 L936.2 138.6 L937.9 138.3 L939.7 138.0 L941.5 137.7 L943.3 137.3 L945.0 136.9 L946.8 136.5 L948.6 136.0 L950.4 135.4 L952.2 134.8 L953.9 134.3 L955.7 133.7 L957.5 133.1 L959.3 132.5 L961.0 131.9 L962.8 131.3 L964.6 130.7 L966.4 130.1 L968.2 129.5 L969.9 128.9 L971.7 128.3 L973.5 127.7 L975.3 127.1 L977.0 126.5 L978.8 125.9 L980.6 125.3 L982.4 124.7 L984.1 124.1 L985.9 123.5 L987.7 122.9 L989.5 122.3 L991.3 121.8 L993.0 121.2 L994.8 120.6 L996.6 120.0 L998.4 119.4 L1000.1 118.8 L1001.9 118.3 L1003.7 117.7 L1005.5 117.1 L1007.3 116.5 L1009.0 116.0 L1010.8 115.5 L1012.6 115.1 L1014.4 114.7 L1016.1 114.3 L1017.9 114.0 L1019.7 113.7 L1021.5 113.5 L1023.2 113.3 L1025.0 113.1 L1026.8 112.9 L1028.6 112.8 L1030.4 112.7 L1032.1 112.7 L1033.9 112.6 L1035.7 112.6 L1037.5 112.6 L1039.2 112.6 L1041.0 112.6 L1042.8 112.6 L1044.6 112.6 L1046.4 112.7 L1048.1 112.7 L1049.9 112.7 L1051.7 112.8 L1053.5 112.8 L1055.2 112.9 L1057.0 112.9 L1058.8 113.0 L1060.6 113.0 L1062.3 113.1 L1064.1 113.1 L1065.9 113.2 L1067.7 113.3 L1069.5 113.3 L1071.2 113.4 L1073.0 113.5 L1074.8 113.6 L1076.6 113.7 L1078.3 113.8 L1080.1 113.8 L1081.9 113.9 L1083.7 114.0 L1085.5 114.1 L1087.2 114.2 L1089.0 114.3 L1090.8 114.5 L1092.6 114.6 L1094.3 114.7 L1096.1 114.8 L1097.9 114.9 L1099.7 115.1 L1101.5 115.2 L1103.2 115.4 L1105.0 115.5 L1106.8 115.7 L1108.6 115.8 L1110.3 116.0 L1112.1 116.1 L1113.9 116.3 L1115.7 116.5 L1117.4 116.6 L1119.2 116.8 L1121.0 116.9 L1122.8 117.1 L1124.6 117.2 L1126.3 117.4 L1128.1 117.5 L1129.9 117.7 L1131.7 117.8 L1133.4 117.9 L1135.2 118.0 L1137.0 118.1 L1138.8 118.2 L1140.6 118.3 L1142.3 118.4 L1144.1 118.5 L1145.9 118.6 L1147.7 118.7 L1149.4 118.8 L1151.2 118.9 L1153.0 118.9 L1154.8 119.0 L1156.5 119.0 L1158.3 119.1 L1160.1 119.1 L1161.9 119.1 L1163.7 119.1 L1165.4 119.1 L1167.2 119.1 L1169.0 119.0 L1170.8 119.0 L1172.5 119.0 L1174.3 118.9 L1176.1 118.9 L1177.9 118.8 L1179.7 118.7 L1181.4 118.6 L1183.2 118.6 L1185.0 118.5 L1186.8 118.4 L1188.5 118.3 L1190.3 118.2 L1192.1 118.2 L1193.9 118.1 L1195.6 118.0 L1197.4 117.9 L1199.2 117.9 L1201.0 117.8 L1202.8 117.8 L1204.5 117.7 L1206.3 117.7 L1208.1 117.6 L1209.9 117.6 L1211.6 117.5 L1213.4 117.5 L1215.2 117.5 L1217.0 117.4 L1218.8 117.4 L1220.5 117.4 L1222.3 117.3 L1224.1 117.3 L1225.9 117.3 L1227.6 117.3 L1229.4 117.3 L1231.2 117.3 L1233.0 117.3 L1234.7 117.3 L1236.5 117.3 L1238.3 117.3 L1240.1 117.3 L1241.9 117.3 L1243.6 117.4 L1245.4 117.5 L1247.2 117.6 L1249.0 117.7 L1250.7 117.8 L1252.5 118.0 L1254.3 118.1 L1256.1 118.3 L1257.9 118.5 L1259.6 118.7 L1261.4 118.9 L1263.2 119.2 L1265.0 119.4 L1266.7 119.7 L1268.5 119.9 L1270.3 120.2 L1272.1 120.5 L1273.8 120.8 L1275.6 121.1 L1277.4 121.4 L1279.2 121.8 L1281.0 122.1 L1282.7 122.4 L1284.5 122.8 L1286.3 123.1 L1288.1 123.5 L1289.8 123.9 L1291.6 124.2 L1293.4 124.6" fill="none" stroke="#808080" stroke-opacity="0.5" stroke-width="3.9" stroke-dasharray="13.7 6" stroke-linejoin="round"/>
<path d="M157.7 263.1 L159.5 263.5 L161.3 263.8 L163.0 264.0 L164.8 264.1 L166.6 264.1 L168.4 264.1 L170.1 264.1 L171.9 263.9 L173.7 263.7 L175.5 263.5 L177.3 263.2 L179.0 262.9 L180.8 262.6 L182.6 262.2 L184.4 261.8 L186.1 261.4 L187.9 260.9 L189.7 260.5 L191.5 260.0 L193.2 259.6 L195.0 259.2 L196.8 258.7 L198.6 258.3 L200.4 257.9 L202.1 257.5 L203.9 257.2 L205.7 256.9 L207.5 256.5 L209.2 256.3 L211.0 256.0 L212.8 255.8 L214.6 255.6 L216.4 255.5 L218.1 255.4 L219.9 255.3 L221.7 255.3 L223.5 255.3 L225.2 255.3 L227.0 255.4 L228.8 255.6 L230.6 255.7 L232.3 255.9 L234.1 256.1 L235.9 256.4 L237.7 256.7 L239.5 257.0 L241.2 257.4 L243.0 257.8 L244.8 258.2 L246.6 258.6 L248.3 259.1 L250.1 259.5 L251.9 260.0 L253.7 260.5 L255.5 261.0 L257.2 261.5 L259.0 262.0 L260.8 262.4 L262.6 262.9 L264.3 263.4 L266.1 263.8 L267.9 264.2 L269.7 264.6 L271.4 264.9 L273.2 265.2 L275.0 265.5 L276.8 265.7 L278.6 265.9 L280.3 266.0 L282.1 266.1 L283.9 266.1 L285.7 266.1 L287.4 266.0 L289.2 265.9 L291.0 265.7 L292.8 265.4 L294.6 265.1 L296.3 264.8 L298.1 264.5 L299.9 264.1 L301.7 263.6 L303.4 263.2 L305.2 262.7 L307.0 262.2 L308.8 261.7 L310.5 261.2 L312.3 260.7 L314.1 260.2 L315.9 259.7 L317.7 259.2 L319.4 258.8 L321.2 258.3 L323.0 257.8 L324.8 257.4 L326.5 257.0 L328.3 256.7 L330.1 256.3 L331.9 256.0 L333.7 255.7 L335.4 255.5 L337.2 255.3 L339.0 255.1 L340.8 255.0 L342.5 254.9 L344.3 254.9 L346.1 254.9 L347.9 254.9 L349.6 255.0 L351.4 255.1 L353.2 255.3 L355.0 255.5 L356.8 255.7 L358.5 256.0 L360.3 256.3 L362.1 256.7 L363.9 257.1 L365.6 257.5 L367.4 258.0 L369.2 258.4 L371.0 259.0 L372.8 259.5 L374.5 260.0 L376.3 260.6 L378.1 261.2 L379.9 261.7 L381.6 262.3 L383.4 262.9 L385.2 263.5 L387.0 264.1 L388.8 264.6 L390.5 265.2 L392.3 265.7 L394.1 266.2 L395.9 266.7 L397.6 267.1 L399.4 267.5 L401.2 267.9 L403.0 268.2 L404.7 268.4 L406.5 268.7 L408.3 268.8 L410.1 268.9 L411.9 269.0 L413.6 269.0 L415.4 268.9 L417.2 268.8 L419.0 268.7 L420.7 268.5 L422.5 268.3 L424.3 268.0 L426.1 267.7 L427.9 267.4 L429.6 267.0 L431.4 266.7 L433.2 266.3 L435.0 265.9 L436.7 265.5 L438.5 265.1 L440.3 264.7 L442.1 264.3 L443.8 264.0 L445.6 263.6 L447.4 263.3 L449.2 262.9 L451.0 262.6 L452.7 262.4 L454.5 262.1 L456.3 261.9 L458.1 261.8 L459.8 261.6 L461.6 261.5 L463.4 261.4 L465.2 261.4 L467.0 261.4 L468.7 261.5 L470.5 261.6 L472.3 261.7 L474.1 261.9 L475.8 262.1 L477.6 262.3 L479.4 262.6 L481.2 262.9 L482.9 263.3 L484.7 263.7 L486.5 264.1 L488.3 264.5 L490.1 265.0 L491.8 265.5 L493.6 266.0 L495.4 266.5 L497.2 267.0 L498.9 267.6 L500.7 268.1 L502.5 268.6 L504.3 269.1 L506.1 269.6 L507.8 270.1 L509.6 270.6 L511.4 271.0 L513.2 271.4 L514.9 271.8 L516.7 272.1 L518.5 272.3 L520.3 272.5 L522.0 272.6 L523.8 272.6 L525.6 272.6 L527.4 272.5 L529.2 272.2 L530.9 271.9 L532.7 271.5 L534.5 271.0 L536.3 270.3 L538.0 269.6 L539.8 268.7 L541.6 267.8 L543.4 266.7 L545.2 265.5 L546.9 264.2 L548.7 262.9 L550.5 261.4 L552.3 259.8 L554.0 258.2 L555.8 256.5 L557.6 254.7 L559.4 252.8 L561.1 250.9 L562.9 249.0 L564.7 246.9 L566.5 244.8 L568.3 242.7 L570.0 240.6 L571.8 238.4 L573.6 236.1 L575.4 233.9 L577.1 231.6 L578.9 229.3 L580.7 227.0 L582.5 224.6 L584.3 222.3 L586.0 220.0 L587.8 217.6 L589.6 215.2 L591.4 212.9 L593.1 210.5 L594.9 208.2 L596.7 205.8 L598.5 203.5 L600.2 201.2 L602.0 198.8 L603.8 196.5 L605.6 194.2 L607.4 192.0 L609.1 189.7 L610.9 187.5 L612.7 185.3 L614.5 183.1 L616.2 180.9 L618.0 178.7 L619.8 176.6 L621.6 174.5 L623.4 172.5 L625.1 170.4 L626.9 168.4 L628.7 166.5 L630.5 164.5 L632.2 162.6 L634.0 160.8 L635.8 159.0 L637.6 157.2 L639.4 155.5 L641.1 153.8 L642.9 152.2 L644.7 150.7 L646.5 149.2 L648.2 147.7 L650.0 146.3 L651.8 145.0 L653.6 143.7 L655.3 142.5 L657.1 141.4 L658.9 140.3 L660.7 139.3 L662.5 138.4 L664.2 137.5 L666.0 136.7 L667.8 135.9 L669.6 135.3 L671.3 134.6 L673.1 134.1 L674.9 133.5 L676.7 133.1 L678.5 132.6 L680.2 132.2 L682.0 131.9 L683.8 131.5 L685.6 131.2 L687.3 131.0 L689.1 130.7 L690.9 130.5 L692.7 130.2 L694.4 130.0 L696.2 129.8 L698.0 129.6 L699.8 129.4 L701.6 129.2 L703.3 129.0 L705.1 128.7 L706.9 128.5 L708.7 128.2 L710.4 128.0 L712.2 127.7 L714.0 127.4 L715.8 127.1 L717.6 126.7 L719.3 126.4 L721.1 126.0 L722.9 125.6 L724.7 125.2 L726.4 124.7 L728.2 124.2 L730.0 123.7 L731.8 123.2 L733.5 122.7 L735.3 122.1 L737.1 121.5 L738.9 120.9 L740.7 120.3 L742.4 119.7 L744.2 119.0 L746.0 118.3 L747.8 117.7 L749.5 117.0 L751.3 116.3 L753.1 115.6 L754.9 114.9 L756.7 114.2 L758.4 113.6 L760.2 112.9 L762.0 112.3 L763.8 111.7 L765.5 111.1 L767.3 110.5 L769.1 109.9 L770.9 109.4 L772.6 109.0 L774.4 108.6 L776.2 108.2 L778.0 107.9 L779.8 107.6 L781.5 107.4 L783.3 107.3 L785.1 107.2 L786.9 107.2 L788.6 107.3 L790.4 107.4 L792.2 107.6 L794.0 107.9 L795.8 108.2 L797.5 108.6 L799.3 109.1 L801.1 109.6 L802.9 110.2 L804.6 110.8 L806.4 111.5 L808.2 112.2 L810.0 112.9 L811.7 113.7 L813.5 114.5 L815.3 115.3 L817.1 116.2 L818.9 117.0 L820.6 117.9 L822.4 118.8 L824.2 119.7 L826.0 120.6 L827.7 121.5 L829.5 122.3 L831.3 123.2 L833.1 124.1 L834.9 124.9 L836.6 125.8 L838.4 126.6 L840.2 127.4 L842.0 128.2 L843.7 128.9 L845.5 129.7 L847.3 130.4 L849.1 131.1 L850.9 131.7 L852.6 132.4 L854.4 133.0 L856.2 133.5 L858.0 134.1 L859.7 134.6 L861.5 135.1 L863.3 135.5 L865.1 136.0 L866.8 136.4 L868.6 136.7 L870.4 137.1 L872.2 137.4 L874.0 137.7 L875.7 137.9 L877.5 138.2 L879.3 138.4 L881.1 138.6 L882.8 138.7 L884.6 138.9 L886.4 139.0 L888.2 139.1 L890.0 139.2 L891.7 139.3 L893.5 139.4 L895.3 139.4 L897.1 139.5 L898.8 139.5 L900.6 139.6 L902.4 139.6 L904.2 139.6 L905.9 139.7 L907.7 139.7 L909.5 139.7 L911.3 139.7 L913.1 139.8 L914.8 139.8 L916.6 139.8 L918.4 139.9 L920.2 139.9 L921.9 140.0 L923.7 140.0 L925.5 140.1 L927.3 140.1 L929.1 140.2 L930.8 140.2 L932.6 140.2 L934.4 140.3 L936.2 140.3 L937.9 140.3 L939.7 140.3 L941.5 140.2 L943.3 140.2 L945.0 140.2 L946.8 140.1 L948.6 140.0 L950.4 139.9 L952.2 139.7 L953.9 139.6 L955.7 139.4 L957.5 139.2 L959.3 139.0 L961.0 138.7 L962.8 138.4 L964.6 138.1 L966.4 137.7 L968.2 137.4 L969.9 137.0 L971.7 136.5 L973.5 136.1 L975.3 135.6 L977.0 135.1 L978.8 134.6 L980.6 134.0 L982.4 133.4 L984.1 132.8 L985.9 132.1 L987.7 131.5 L989.5 130.8 L991.3 130.1 L993.0 129.4 L994.8 128.6 L996.6 127.9 L998.4 127.1 L1000.1 126.3 L1001.9 125.5 L1003.7 124.7 L1005.5 123.9 L1007.3 123.1 L1009.0 122.3 L1010.8 121.6 L1012.6 120.8 L1014.4 120.0 L1016.1 119.3 L1017.9 118.5 L1019.7 117.8 L1021.5 117.2 L1023.2 116.5 L1025.0 115.9 L1026.8 115.3 L1028.6 114.8 L1030.4 114.3 L1032.1 113.9 L1033.9 113.5 L1035.7 113.2 L1037.5 112.9 L1039.2 112.7 L1041.0 112.6 L1042.8 112.5 L1044.6 112.4 L1046.4 112.5 L1048.1 112.5 L1049.9 112.7 L1051.7 112.8 L1053.5 113.1 L1055.2 113.3 L1057.0 113.7 L1058.8 114.0 L1060.6 114.4 L1062.3 114.8 L1064.1 115.2 L1065.9 115.7 L1067.7 116.1 L1069.5 116.6 L1071.2 117.1 L1073.0 117.6 L1074.8 118.0 L1076.6 118.5 L1078.3 119.0 L1080.1 119.5 L1081.9 119.9 L1083.7 120.4 L1085.5 120.8 L1087.2 121.2 L1089.0 121.6 L1090.8 122.0 L1092.6 122.3 L1094.3 122.6 L1096.1 122.9 L1097.9 123.2 L1099.7 123.4 L1101.5 123.6 L1103.2 123.8 L1105.0 123.9 L1106.8 124.1 L1108.6 124.1 L1110.3 124.2 L1112.1 124.2 L1113.9 124.2 L1115.7 124.2 L1117.4 124.1 L1119.2 124.0 L1121.0 123.9 L1122.8 123.8 L1124.6 123.6 L1126.3 123.4 L1128.1 123.2 L1129.9 123.0 L1131.7 122.8 L1133.4 122.5 L1135.2 122.2 L1137.0 122.0 L1138.8 121.7 L1140.6 121.4 L1142.3 121.2 L1144.1 120.9 L1145.9 120.6 L1147.7 120.4 L1149.4 120.1 L1151.2 119.9 L1153.0 119.7 L1154.8 119.5 L1156.5 119.4 L1158.3 119.2 L1160.1 119.1 L1161.9 119.1 L1163.7 119.0 L1165.4 119.0 L1167.2 119.1 L1169.0 119.2 L1170.8 119.3 L1172.5 119.5 L1174.3 119.6 L1176.1 119.9 L1177.9 120.1 L1179.7 120.4 L1181.4 120.7 L1183.2 121.0 L1185.0 121.4 L1186.8 121.8 L1188.5 122.1 L1190.3 122.5 L1192.1 122.9 L1193.9 123.3 L1195.6 123.8 L1197.4 124.2 L1199.2 124.6 L1201.0 125.0 L1202.8 125.3 L1204.5 125.7 L1206.3 126.1 L1208.1 126.4 L1209.9 126.7 L1211.6 127.1 L1213.4 127.3 L1215.2 127.6 L1217.0 127.9 L1218.8 128.1 L1220.5 128.3 L1222.3 128.4 L1224.1 128.6 L1225.9 128.7 L1227.6 128.8 L1229.4 128.8 L1231.2 128.9 L1233.0 128.9 L1234.7 128.8 L1236.5 128.8 L1238.3 128.7 L1240.1 128.6 L1241.9 128.5 L1243.6 128.3 L1245.4 128.2 L1247.2 128.0 L1249.0 127.8 L1250.7 127.5 L1252.5 127.3 L1254.3 127.1 L1256.1 126.8 L1257.9 126.5 L1259.6 126.3 L1261.4 126.0 L1263.2 125.7 L1265.0 125.5 L1266.7 125.2 L1268.5 124.9 L1270.3 124.7 L1272.1 124.5 L1273.8 124.3 L1275.6 124.1 L1277.4 124.0 L1279.2 123.9 L1281.0 123.8 L1282.7 123.8 L1284.5 123.8 L1286.3 123.9 L1288.1 124.0 L1289.8 124.1 L1291.6 124.3 L1293.4 124.6" fill="none" stroke="#1f77b4" stroke-width="3.0" stroke-linejoin="round" stroke-linecap="square"/>
</g>
<rect x="92.2" y="137.90" width="8.5" height="2.2" fill="#000"/>
<rect x="92.2" y="248.40" width="8.5" height="2.2" fill="#000"/>
</g>
<g id="panel2">
<clipPath id="c1"><rect x="101.0" y="328.4" width="1249.0" height="286.00"/></clipPath>
<g clip-path="url(#c1)">
<path d="M157.7 549.0 L159.5 547.4 L161.3 545.7 L163.0 544.0 L164.8 542.3 L166.6 540.6 L168.4 539.0 L170.1 537.4 L171.9 535.8 L173.7 534.4 L175.5 533.0 L177.3 531.7 L179.0 530.5 L180.8 529.4 L182.6 528.4 L184.4 527.6 L186.1 526.9 L187.9 526.3 L189.7 525.8 L191.5 525.6 L193.2 525.4 L195.0 525.4 L196.8 525.6 L198.6 525.9 L200.4 526.4 L202.1 527.0 L203.9 527.7 L205.7 528.6 L207.5 529.7 L209.2 530.9 L211.0 532.2 L212.8 533.6 L214.6 535.1 L216.4 536.8 L218.1 538.5 L219.9 540.3 L221.7 542.2 L223.5 544.1 L225.2 546.1 L227.0 548.1 L228.8 550.1 L230.6 549.5 L232.3 547.6 L234.1 545.7 L235.9 543.9 L237.7 542.3 L239.5 540.7 L241.2 539.3 L243.0 538.0 L244.8 536.9 L246.6 535.9 L248.3 535.1 L250.1 534.4 L251.9 533.9 L253.7 533.6 L255.5 533.5 L257.2 533.5 L259.0 533.8 L260.8 534.2 L262.6 534.7 L264.3 535.4 L266.1 536.3 L267.9 537.4 L269.7 538.6 L271.4 539.9 L273.2 541.4 L275.0 542.9 L276.8 544.6 L278.6 546.3 L280.3 548.2 L282.1 550.0 L283.9 551.9 L285.7 550.1 L287.4 547.9 L289.2 545.8 L291.0 543.6 L292.8 541.5 L294.6 539.3 L296.3 537.3 L298.1 535.2 L299.9 533.3 L301.7 531.5 L303.4 529.7 L305.2 528.1 L307.0 526.5 L308.8 525.1 L310.5 523.9 L312.3 522.7 L314.1 521.8 L315.9 520.9 L317.7 520.3 L319.4 519.8 L321.2 519.4 L323.0 519.3 L324.8 519.2 L326.5 519.4 L328.3 519.7 L330.1 520.2 L331.9 520.9 L333.7 521.7 L335.4 522.6 L337.2 523.8 L339.0 525.0 L340.8 526.4 L342.5 527.9 L344.3 529.6 L346.1 531.3 L347.9 533.2 L349.6 535.1 L351.4 537.2 L353.2 539.2 L355.0 541.4 L356.8 543.5 L358.5 545.7 L360.3 547.9 L362.1 550.1 L363.9 552.2 L365.6 553.9 L367.4 552.4 L369.2 550.8 L371.0 549.4 L372.8 548.1 L374.5 546.9 L376.3 545.8 L378.1 544.9 L379.9 544.1 L381.6 543.5 L383.4 543.0 L385.2 542.7 L387.0 542.6 L388.8 542.7 L390.5 542.9 L392.3 543.3 L394.1 543.9 L395.9 544.6 L397.6 545.5 L399.4 546.5 L401.2 547.7 L403.0 549.0 L404.7 550.4 L406.5 551.9 L408.3 553.5 L410.1 554.6 L411.9 552.8 L413.6 550.9 L415.4 549.1 L417.2 547.2 L419.0 545.5 L420.7 543.8 L422.5 542.1 L424.3 540.6 L426.1 539.1 L427.9 537.8 L429.6 536.6 L431.4 535.5 L433.2 534.6 L435.0 533.9 L436.7 533.3 L438.5 532.8 L440.3 532.6 L442.1 532.5 L443.8 532.5 L445.6 532.8 L447.4 533.2 L449.2 533.8 L451.0 534.5 L452.7 535.4 L454.5 536.5 L456.3 537.7 L458.1 539.0 L459.8 540.5 L461.6 542.1 L463.4 543.8 L465.2 545.5 L467.0 547.4 L468.7 549.3 L470.5 551.3 L472.3 553.2 L474.1 555.2 L475.8 555.0 L477.6 553.1 L479.4 551.2 L481.2 549.3 L482.9 547.6 L484.7 545.9 L486.5 544.2 L488.3 542.7 L490.1 541.3 L491.8 540.0 L493.6 538.9 L495.4 537.8 L497.2 537.0 L498.9 536.3 L500.7 535.7 L502.5 535.4 L504.3 535.2 L506.1 535.1 L507.8 535.3 L509.6 535.6 L511.4 536.1 L513.2 536.7 L514.9 537.5 L516.7 538.5 L518.5 539.6 L520.3 540.9 L522.0 542.2 L523.8 543.7 L525.6 545.3 L527.4 547.0 L529.2 548.8 L530.9 550.6 L532.7 552.5 L534.5 554.3 L536.3 556.2 L538.0 554.5 L539.8 552.8 L541.6 551.1 L543.4 549.4 L545.2 547.8 L546.9 546.4 L548.7 545.0 L550.5 543.7 L552.3 542.5 L554.0 541.5 L555.8 540.6 L557.6 539.8 L559.4 539.1 L561.1 538.6 L562.9 538.2 L564.7 538.0 L566.5 537.9 L568.3 537.8 L570.0 537.9 L571.8 538.1 L573.6 538.4 L575.4 538.7 L577.1 539.1 L578.9 539.6 L580.7 540.1 L582.5 540.5 L584.3 541.0 L586.0 541.4 L587.8 541.8 L589.6 542.0 L591.4 542.2 L593.1 542.2 L594.9 541.0 L596.7 538.2 L598.5 535.4 L600.2 532.7 L602.0 529.9 L603.8 527.3 L605.6 524.7 L607.4 522.2 L609.1 519.8 L610.9 517.5 L612.7 515.2 L614.5 513.1 L616.2 511.0 L618.0 509.0 L619.8 507.0 L621.6 505.1 L623.4 503.2 L625.1 501.2 L626.9 499.2 L628.7 495.2 L630.5 491.1 L632.2 486.9 L634.0 482.8 L635.8 478.7 L637.6 474.6 L639.4 470.7 L641.1 466.8 L642.9 463.0 L644.7 459.2 L646.5 455.6 L648.2 452.0 L650.0 448.5 L651.8 445.0 L653.6 441.5 L655.3 438.1 L657.1 434.6 L658.9 431.2 L660.7 427.6 L662.5 423.8 L664.2 418.6 L666.0 413.5 L667.8 408.5 L669.6 403.7 L671.3 399.0 L673.1 394.6 L674.9 390.3 L676.7 386.3 L678.5 382.5 L680.2 379.0 L682.0 375.7 L683.8 371.9 L685.6 367.6 L687.3 363.5 L689.1 359.7 L690.9 356.3 L692.7 353.2 L694.4 350.6 L696.2 348.4 L698.0 346.7 L699.8 345.4 L701.6 344.6 L703.3 344.4 L705.1 344.5 L706.9 345.1 L708.7 346.2 L710.4 347.5 L712.2 347.9 L714.0 348.5 L715.8 349.5 L717.6 350.7 L719.3 352.3 L721.1 354.1 L722.9 356.1 L724.7 358.3 L726.4 360.6 L728.2 362.9 L730.0 365.3 L731.8 367.6 L733.5 369.7 L735.3 371.7 L737.1 372.3 L738.9 372.9 L740.7 373.4 L742.4 373.8 L744.2 374.3 L746.0 374.9 L747.8 375.5 L749.5 376.3 L751.3 377.2 L753.1 377.5 L754.9 377.2 L756.7 376.9 L758.4 376.7 L760.2 376.6 L762.0 376.6 L763.8 376.8 L765.5 377.2 L767.3 377.7 L769.1 378.4 L770.9 379.3 L772.6 380.3 L774.4 381.5 L776.2 382.8 L778.0 384.3 L779.8 385.8 L781.5 387.4 L783.3 389.0 L785.1 390.5 L786.9 392.0 L788.6 393.3 L790.4 393.1 L792.2 392.9 L794.0 392.8 L795.8 392.7 L797.5 392.8 L799.3 392.9 L801.1 393.2 L802.9 393.7 L804.6 394.3 L806.4 395.0 L808.2 395.9 L810.0 396.7 L811.7 396.1 L813.5 395.5 L815.3 394.9 L817.1 394.4 L818.9 394.0 L820.6 393.7 L822.4 393.5 L824.2 393.5 L826.0 393.7 L827.7 394.1 L829.5 394.6 L831.3 395.4 L833.1 396.3 L834.9 397.4 L836.6 398.6 L838.4 400.0 L840.2 401.5 L842.0 403.1 L843.7 404.8 L845.5 406.6 L847.3 408.3 L849.1 409.6 L850.9 409.5 L852.6 409.5 L854.4 409.7 L856.2 409.9 L858.0 410.3 L859.7 410.9 L861.5 411.6 L863.3 412.5 L865.1 413.5 L866.8 414.7 L868.6 416.0 L870.4 417.4 L872.2 419.0 L874.0 419.2 L875.7 418.8 L877.5 418.2 L879.3 417.7 L881.1 417.2 L882.8 416.7 L884.6 416.2 L886.4 415.8 L888.2 415.5 L890.0 415.3 L891.7 415.3 L893.5 415.3 L895.3 415.5 L897.1 415.8 L898.8 416.3 L900.6 416.9 L902.4 417.7 L904.2 418.6 L905.9 419.6 L907.7 420.7 L909.5 422.0 L911.3 423.3 L913.1 424.7 L914.8 425.4 L916.6 423.8 L918.4 422.1 L920.2 420.3 L921.9 418.6 L923.7 416.8 L925.5 415.1 L927.3 413.4 L929.1 411.8 L930.8 410.2 L932.6 408.7 L934.4 407.3 L936.2 406.0 L937.9 404.8 L939.7 403.8 L941.5 402.8 L943.3 402.0 L945.0 401.4 L946.8 400.9 L948.6 400.5 L950.4 400.3 L952.2 400.2 L953.9 400.2 L955.7 400.4 L957.5 400.8 L959.3 401.3 L961.0 401.9 L962.8 402.7 L964.6 403.5 L966.4 404.5 L968.2 405.6 L969.9 406.8 L971.7 408.1 L973.5 409.4 L975.3 410.8 L977.0 412.2 L978.8 410.3 L980.6 407.9 L982.4 405.5 L984.1 403.2 L985.9 401.0 L987.7 398.8 L989.5 396.7 L991.3 394.7 L993.0 392.9 L994.8 391.1 L996.6 389.6 L998.4 388.1 L1000.1 386.8 L1001.9 385.7 L1003.7 384.7 L1005.5 383.8 L1007.3 383.2 L1009.0 382.7 L1010.8 382.3 L1012.6 382.2 L1014.4 382.2 L1016.1 382.3 L1017.9 382.7 L1019.7 383.2 L1021.5 383.8 L1023.2 384.6 L1025.0 385.5 L1026.8 386.6 L1028.6 387.8 L1030.4 389.2 L1032.1 390.6 L1033.9 392.1 L1035.7 393.7 L1037.5 395.4 L1039.2 397.1 L1041.0 398.2 L1042.8 396.2 L1044.6 394.2 L1046.4 392.3 L1048.1 390.4 L1049.9 388.7 L1051.7 387.1 L1053.5 385.6 L1055.2 384.2 L1057.0 383.0 L1058.8 381.9 L1060.6 381.0 L1062.3 380.3 L1064.1 379.7 L1065.9 379.3 L1067.7 379.1 L1069.5 379.0 L1071.2 379.1 L1073.0 379.4 L1074.8 379.9 L1076.6 380.5 L1078.3 381.3 L1080.1 382.2 L1081.9 383.3 L1083.7 384.6 L1085.5 386.0 L1087.2 387.5 L1089.0 389.2 L1090.8 391.0 L1092.6 392.8 L1094.3 394.8 L1096.1 396.8 L1097.9 398.9 L1099.7 401.1 L1101.5 399.3 L1103.2 397.5 L1105.0 395.8 L1106.8 394.1 L1108.6 392.4 L1110.3 390.8 L1112.1 389.3 L1113.9 387.9 L1115.7 386.6 L1117.4 385.4 L1119.2 384.3 L1121.0 383.3 L1122.8 382.5 L1124.6 381.8 L1126.3 381.2 L1128.1 380.8 L1129.9 380.5 L1131.7 380.3 L1133.4 380.4 L1135.2 380.5 L1137.0 380.8 L1138.8 381.3 L1140.6 381.9 L1142.3 382.7 L1144.1 383.6 L1145.9 384.6 L1147.7 385.8 L1149.4 387.1 L1151.2 388.5 L1153.0 390.1 L1154.8 391.7 L1156.5 393.5 L1158.3 395.3 L1160.1 397.2 L1161.9 399.2 L1163.7 401.3 L1165.4 403.4 L1167.2 404.7 L1169.0 402.7 L1170.8 400.6 L1172.5 398.6 L1174.3 396.6 L1176.1 394.7 L1177.9 392.8 L1179.7 391.1 L1181.4 389.4 L1183.2 387.8 L1185.0 386.3 L1186.8 385.0 L1188.5 383.8 L1190.3 382.7 L1192.1 381.7 L1193.9 380.9 L1195.6 380.2 L1197.4 379.6 L1199.2 379.2 L1201.0 378.9 L1202.8 378.8 L1204.5 378.8 L1206.3 379.0 L1208.1 379.3 L1209.9 379.8 L1211.6 380.4 L1213.4 381.1 L1215.2 382.0 L1217.0 383.0 L1218.8 384.2 L1220.5 385.4 L1222.3 386.8 L1224.1 388.3 L1225.9 389.9 L1227.6 391.5 L1229.4 393.3 L1231.2 395.1 L1233.0 397.0 L1234.7 398.9 L1236.5 400.9 L1238.3 402.9 L1240.1 401.8 L1241.9 399.8 L1243.6 398.0 L1245.4 396.3 L1247.2 394.6 L1249.0 393.1 L1250.7 391.7 L1252.5 390.4 L1254.3 389.3 L1256.1 388.4 L1257.9 387.6 L1259.6 387.0 L1261.4 386.6 L1263.2 386.4 L1265.0 386.4 L1266.7 386.5 L1268.5 386.9 L1270.3 387.4 L1272.1 388.1 L1273.8 389.1 L1275.6 390.2 L1277.4 391.5 L1279.2 393.0 L1281.0 394.6 L1282.7 396.5 L1284.5 398.5 L1286.3 400.6 L1288.1 402.9 L1289.8 405.4 L1291.6 407.9 L1293.4 410.6 L1293.4 410.6 L1291.6 412.2 L1289.8 413.8 L1288.1 415.3 L1286.3 416.7 L1284.5 418.0 L1282.7 419.2 L1281.0 420.3 L1279.2 421.2 L1277.4 422.0 L1275.6 422.7 L1273.8 423.2 L1272.1 423.5 L1270.3 423.7 L1268.5 423.7 L1266.7 423.6 L1265.0 423.3 L1263.2 422.9 L1261.4 422.2 L1259.6 421.5 L1257.9 420.6 L1256.1 419.5 L1254.3 418.3 L1252.5 416.9 L1250.7 415.5 L1249.0 413.9 L1247.2 412.2 L1245.4 410.5 L1243.6 408.6 L1241.9 406.7 L1240.1 404.8 L1238.3 403.7 L1236.5 405.7 L1234.7 407.8 L1233.0 409.8 L1231.2 411.8 L1229.4 413.8 L1227.6 415.7 L1225.9 417.5 L1224.1 419.3 L1222.3 421.0 L1220.5 422.5 L1218.8 424.0 L1217.0 425.3 L1215.2 426.6 L1213.4 427.6 L1211.6 428.6 L1209.9 429.4 L1208.1 430.0 L1206.3 430.5 L1204.5 430.8 L1202.8 431.0 L1201.0 431.0 L1199.2 430.9 L1197.4 430.6 L1195.6 430.1 L1193.9 429.5 L1192.1 428.7 L1190.3 427.8 L1188.5 426.7 L1186.8 425.5 L1185.0 424.1 L1183.2 422.7 L1181.4 421.1 L1179.7 419.4 L1177.9 417.6 L1176.1 415.7 L1174.3 413.7 L1172.5 411.7 L1170.8 409.7 L1169.0 407.6 L1167.2 405.5 L1165.4 406.8 L1163.7 408.8 L1161.9 410.9 L1160.1 412.8 L1158.3 414.7 L1156.5 416.5 L1154.8 418.2 L1153.0 419.8 L1151.2 421.3 L1149.4 422.7 L1147.7 423.9 L1145.9 425.0 L1144.1 425.9 L1142.3 426.7 L1140.6 427.3 L1138.8 427.8 L1137.0 428.1 L1135.2 428.2 L1133.4 428.1 L1131.7 427.9 L1129.9 427.6 L1128.1 427.0 L1126.3 426.3 L1124.6 425.5 L1122.8 424.4 L1121.0 423.3 L1119.2 422.0 L1117.4 420.5 L1115.7 419.0 L1113.9 417.3 L1112.1 415.5 L1110.3 413.6 L1108.6 411.6 L1106.8 409.6 L1105.0 407.5 L1103.2 405.4 L1101.5 403.2 L1099.7 401.1 L1097.9 402.9 L1096.1 404.6 L1094.3 406.3 L1092.6 408.0 L1090.8 409.5 L1089.0 411.0 L1087.2 412.3 L1085.5 413.6 L1083.7 414.7 L1081.9 415.7 L1080.1 416.5 L1078.3 417.2 L1076.6 417.7 L1074.8 418.1 L1073.0 418.3 L1071.2 418.4 L1069.5 418.3 L1067.7 418.0 L1065.9 417.6 L1064.1 417.0 L1062.3 416.3 L1060.6 415.4 L1058.8 414.4 L1057.0 413.2 L1055.2 412.0 L1053.5 410.6 L1051.7 409.1 L1049.9 407.5 L1048.1 405.9 L1046.4 404.2 L1044.6 402.5 L1042.8 400.7 L1041.0 398.9 L1039.2 400.3 L1037.5 402.4 L1035.7 404.5 L1033.9 406.5 L1032.1 408.6 L1030.4 410.5 L1028.6 412.4 L1026.8 414.2 L1025.0 416.0 L1023.2 417.6 L1021.5 419.1 L1019.7 420.4 L1017.9 421.7 L1016.1 422.8 L1014.4 423.7 L1012.6 424.5 L1010.8 425.2 L1009.0 425.7 L1007.3 426.0 L1005.5 426.2 L1003.7 426.3 L1001.9 426.1 L1000.1 425.9 L998.4 425.5 L996.6 424.9 L994.8 424.2 L993.0 423.4 L991.3 422.5 L989.5 421.4 L987.7 420.3 L985.9 419.1 L984.1 417.8 L982.4 416.4 L980.6 415.0 L978.8 413.6 L977.0 412.8 L975.3 415.2 L973.5 417.6 L971.7 419.9 L969.9 422.2 L968.2 424.4 L966.4 426.6 L964.6 428.6 L962.8 430.5 L961.0 432.3 L959.3 433.9 L957.5 435.4 L955.7 436.8 L953.9 438.0 L952.2 439.0 L950.4 439.9 L948.6 440.5 L946.8 441.1 L945.0 441.4 L943.3 441.6 L941.5 441.6 L939.7 441.4 L937.9 441.1 L936.2 440.6 L934.4 440.0 L932.6 439.2 L930.8 438.3 L929.1 437.2 L927.3 436.1 L925.5 434.8 L923.7 433.5 L921.9 432.1 L920.2 430.6 L918.4 429.1 L916.6 427.7 L914.8 426.2 L913.1 427.0 L911.3 428.4 L909.5 429.7 L907.7 430.9 L905.9 431.9 L904.2 432.8 L902.4 433.5 L900.6 433.9 L898.8 434.2 L897.1 434.3 L895.3 434.1 L893.5 433.8 L891.7 433.3 L890.0 432.6 L888.2 431.7 L886.4 430.7 L884.6 429.5 L882.8 428.2 L881.1 426.8 L879.3 425.3 L877.5 423.7 L875.7 422.1 L874.0 420.5 L872.2 419.6 L870.4 419.9 L868.6 420.1 L866.8 420.0 L865.1 419.9 L863.3 419.5 L861.5 418.9 L859.7 418.1 L858.0 417.2 L856.2 416.0 L854.4 414.7 L852.6 413.3 L850.9 411.7 L849.1 410.0 L847.3 409.7 L845.5 409.8 L843.7 409.9 L842.0 410.0 L840.2 410.0 L838.4 410.0 L836.6 409.9 L834.9 409.6 L833.1 409.3 L831.3 408.8 L829.5 408.3 L827.7 407.6 L826.0 406.8 L824.2 405.9 L822.4 404.9 L820.6 403.8 L818.9 402.6 L817.1 401.5 L815.3 400.3 L813.5 399.1 L811.7 398.0 L810.0 396.9 L808.2 397.3 L806.4 397.8 L804.6 398.2 L802.9 398.5 L801.1 398.6 L799.3 398.4 L797.5 398.1 L795.8 397.6 L794.0 396.9 L792.2 395.9 L790.4 394.8 L788.6 393.5 L786.9 393.4 L785.1 393.6 L783.3 393.6 L781.5 393.5 L779.8 393.3 L778.0 393.0 L776.2 392.5 L774.4 391.9 L772.6 391.2 L770.9 390.3 L769.1 389.3 L767.3 388.2 L765.5 387.0 L763.8 385.7 L762.0 384.4 L760.2 383.1 L758.4 381.8 L756.7 380.5 L754.9 379.3 L753.1 378.2 L751.3 377.8 L749.5 378.0 L747.8 378.1 L746.0 378.0 L744.2 377.6 L742.4 377.0 L740.7 376.1 L738.9 374.9 L737.1 373.4 L735.3 371.7 L733.5 370.9 L731.8 369.9 L730.0 368.7 L728.2 367.3 L726.4 365.6 L724.7 363.8 L722.9 361.8 L721.1 359.7 L719.3 357.5 L717.6 355.3 L715.8 353.2 L714.0 351.1 L712.2 349.2 L710.4 347.7 L708.7 347.7 L706.9 348.1 L705.1 348.7 L703.3 349.6 L701.6 350.8 L699.8 352.2 L698.0 353.7 L696.2 355.5 L694.4 357.5 L692.7 359.6 L690.9 361.9 L689.1 364.3 L687.3 366.9 L685.6 369.6 L683.8 372.6 L682.0 376.3 L680.2 380.9 L678.5 385.6 L676.7 390.3 L674.9 394.9 L673.1 399.4 L671.3 403.8 L669.6 408.2 L667.8 412.3 L666.0 416.3 L664.2 420.2 L662.5 424.0 L660.7 429.0 L658.9 434.2 L657.1 439.3 L655.3 444.3 L653.6 449.3 L651.8 454.1 L650.0 458.6 L648.2 463.1 L646.5 467.2 L644.7 471.2 L642.9 474.9 L641.1 478.5 L639.4 481.7 L637.6 484.8 L635.8 487.6 L634.0 490.3 L632.2 492.7 L630.5 495.0 L628.7 497.2 L626.9 499.3 L625.1 503.4 L623.4 507.4 L621.6 511.2 L619.8 514.9 L618.0 518.4 L616.2 521.7 L614.5 524.8 L612.7 527.7 L610.9 530.3 L609.1 532.6 L607.4 534.7 L605.6 536.6 L603.8 538.1 L602.0 539.4 L600.2 540.4 L598.5 541.2 L596.7 541.7 L594.9 542.1 L593.1 543.8 L591.4 546.6 L589.6 549.2 L587.8 551.8 L586.0 554.3 L584.3 556.7 L582.5 559.0 L580.7 561.1 L578.9 563.0 L577.1 564.8 L575.4 566.4 L573.6 567.8 L571.8 569.1 L570.0 570.1 L568.3 571.0 L566.5 571.6 L564.7 572.0 L562.9 572.3 L561.1 572.4 L559.4 572.2 L557.6 571.9 L555.8 571.4 L554.0 570.7 L552.3 569.8 L550.5 568.8 L548.7 567.6 L546.9 566.3 L545.2 564.9 L543.4 563.3 L541.6 561.6 L539.8 559.9 L538.0 558.1 L536.3 556.3 L534.5 558.1 L532.7 559.8 L530.9 561.6 L529.2 563.3 L527.4 564.9 L525.6 566.5 L523.8 567.9 L522.0 569.3 L520.3 570.6 L518.5 571.7 L516.7 572.7 L514.9 573.6 L513.2 574.4 L511.4 575.0 L509.6 575.4 L507.8 575.8 L506.1 575.9 L504.3 575.9 L502.5 575.8 L500.7 575.5 L498.9 575.1 L497.2 574.4 L495.4 573.7 L493.6 572.8 L491.8 571.8 L490.1 570.6 L488.3 569.3 L486.5 567.8 L484.7 566.3 L482.9 564.6 L481.2 562.9 L479.4 561.1 L477.6 559.2 L475.8 557.2 L474.1 556.8 L472.3 558.7 L470.5 560.6 L468.7 562.3 L467.0 564.1 L465.2 565.7 L463.4 567.2 L461.6 568.7 L459.8 570.0 L458.1 571.2 L456.3 572.2 L454.5 573.2 L452.7 574.0 L451.0 574.6 L449.2 575.2 L447.4 575.5 L445.6 575.8 L443.8 575.9 L442.1 575.8 L440.3 575.6 L438.5 575.2 L436.7 574.8 L435.0 574.1 L433.2 573.4 L431.4 572.5 L429.6 571.5 L427.9 570.4 L426.1 569.2 L424.3 567.8 L422.5 566.4 L420.7 564.9 L419.0 563.4 L417.2 561.8 L415.4 560.1 L413.6 558.5 L411.9 556.8 L410.1 555.1 L408.3 556.4 L406.5 558.1 L404.7 559.7 L403.0 561.2 L401.2 562.6 L399.4 563.9 L397.6 565.0 L395.9 566.0 L394.1 566.7 L392.3 567.3 L390.5 567.8 L388.8 568.0 L387.0 568.0 L385.2 567.9 L383.4 567.5 L381.6 566.9 L379.9 566.2 L378.1 565.3 L376.3 564.1 L374.5 562.9 L372.8 561.4 L371.0 559.8 L369.2 558.1 L367.4 556.2 L365.6 554.2 L363.9 555.6 L362.1 557.2 L360.3 558.9 L358.5 560.5 L356.8 562.2 L355.0 563.8 L353.2 565.4 L351.4 566.9 L349.6 568.4 L347.9 569.8 L346.1 571.1 L344.3 572.3 L342.5 573.5 L340.8 574.5 L339.0 575.5 L337.2 576.3 L335.4 577.1 L333.7 577.7 L331.9 578.2 L330.1 578.6 L328.3 579.0 L326.5 579.1 L324.8 579.2 L323.0 579.2 L321.2 579.0 L319.4 578.7 L317.7 578.3 L315.9 577.8 L314.1 577.2 L312.3 576.4 L310.5 575.6 L308.8 574.6 L307.0 573.5 L305.2 572.3 L303.4 571.0 L301.7 569.6 L299.9 568.2 L298.1 566.6 L296.3 564.9 L294.6 563.2 L292.8 561.4 L291.0 559.6 L289.2 557.7 L287.4 555.8 L285.7 553.9 L283.9 552.2 L282.1 554.2 L280.3 556.2 L278.6 558.1 L276.8 559.8 L275.0 561.5 L273.2 563.0 L271.4 564.4 L269.7 565.6 L267.9 566.7 L266.1 567.6 L264.3 568.3 L262.6 568.9 L260.8 569.2 L259.0 569.5 L257.2 569.5 L255.5 569.4 L253.7 569.1 L251.9 568.6 L250.1 568.0 L248.3 567.2 L246.6 566.2 L244.8 565.1 L243.0 563.9 L241.2 562.5 L239.5 561.0 L237.7 559.4 L235.9 557.7 L234.1 555.9 L232.3 554.0 L230.6 552.0 L228.8 551.4 L227.0 553.4 L225.2 555.4 L223.5 557.4 L221.7 559.4 L219.9 561.4 L218.1 563.3 L216.4 565.1 L214.6 566.9 L212.8 568.5 L211.0 570.1 L209.2 571.6 L207.5 573.0 L205.7 574.3 L203.9 575.4 L202.1 576.4 L200.4 577.3 L198.6 578.1 L196.8 578.7 L195.0 579.1 L193.2 579.4 L191.5 579.5 L189.7 579.5 L187.9 579.3 L186.1 578.9 L184.4 578.4 L182.6 577.7 L180.8 576.8 L179.0 575.7 L177.3 574.5 L175.5 573.0 L173.7 571.4 L171.9 569.6 L170.1 567.6 L168.4 565.5 L166.6 563.1 L164.8 560.6 L163.0 558.0 L161.3 555.1 L159.5 552.2 L157.7 549.1 Z" fill="#1f77b4" fill-opacity="0.5"/>
<circle cx="157.7" cy="549.1" r="5.2" fill="#ff7f0e"/>
<circle cx="229.4" cy="550.8" r="5.2" fill="#ff7f0e"/>
<circle cx="284.0" cy="552.1" r="5.2" fill="#ff7f0e"/>
<circle cx="365.5" cy="554.1" r="5.2" fill="#ff7f0e"/>
<circle cx="409.8" cy="554.9" r="5.2" fill="#ff7f0e"/>
<circle cx="474.8" cy="556.1" r="5.2" fill="#ff7f0e"/>
<circle cx="536.3" cy="556.3" r="5.2" fill="#ff7f0e"/>
<circle cx="594.2" cy="542.2" r="5.2" fill="#ff7f0e"/>
<circle cx="627.0" cy="499.1" r="5.2" fill="#ff7f0e"/>
<circle cx="662.2" cy="424.5" r="5.2" fill="#ff7f0e"/>
<circle cx="682.9" cy="374.1" r="5.2" fill="#ff7f0e"/>
<circle cx="710.6" cy="347.7" r="5.2" fill="#ff7f0e"/>
<circle cx="735.3" cy="371.7" r="5.2" fill="#ff7f0e"/>
<circle cx="752.2" cy="377.7" r="5.2" fill="#ff7f0e"/>
<circle cx="788.4" cy="393.3" r="5.2" fill="#ff7f0e"/>
<circle cx="809.8" cy="396.8" r="5.2" fill="#ff7f0e"/>
<circle cx="848.6" cy="409.6" r="5.2" fill="#ff7f0e"/>
<circle cx="872.8" cy="419.5" r="5.2" fill="#ff7f0e"/>
<circle cx="914.4" cy="425.8" r="5.2" fill="#ff7f0e"/>
<circle cx="977.3" cy="412.4" r="5.2" fill="#ff7f0e"/>
<circle cx="1040.7" cy="398.6" r="5.2" fill="#ff7f0e"/>
<circle cx="1099.7" cy="401.1" r="5.2" fill="#ff7f0e"/>
<circle cx="1166.9" cy="405.1" r="5.2" fill="#ff7f0e"/>
<circle cx="1238.7" cy="403.3" r="5.2" fill="#ff7f0e"/>
<circle cx="1293.4" cy="410.6" r="5.2" fill="#ff7f0e"/>
<rect x="147" y="328.4" width="2.0" height="286.00" fill="#b0b0b0"/>
<rect x="289" y="328.4" width="2.0" height="286.00" fill="#b0b0b0"/>
<rect x="431" y="328.4" width="2.0" height="286.00" fill="#b0b0b0"/>
<rect x="573" y="328.4" width="2.0" height="286.00" fill="#b0b0b0"/>
<rect x="715" y="328.4" width="2.0" height="286.00" fill="#b0b0b0"/>
<rect x="857" y="328.4" width="2.0" height="286.00" fill="#b0b0b0"/>
<rect x="999" y="328.4" width="2.0" height="286.00" fill="#b0b0b0"/>
<rect x="1141" y="328.4" width="2.0" height="286.00" fill="#b0b0b0"/>
<rect x="1283" y="328.4" width="2.0" height="286.00" fill="#b0b0b0"/>
<rect x="101.0" y="424.00" width="1249.0" height="2.0" fill="#b0b0b0"/>
<rect x="101.0" y="534.45" width="1249.0" height="2.0" fill="#b0b0b0"/>
<path d="M157.7 549.1 L159.5 549.1 L161.3 549.1 L163.0 549.1 L164.8 549.1 L166.6 549.1 L168.4 549.2 L170.1 549.2 L171.9 549.2 L173.7 549.2 L175.5 549.3 L177.3 549.3 L179.0 549.3 L180.8 549.4 L182.6 549.4 L184.4 549.4 L186.1 549.5 L187.9 549.5 L189.7 549.6 L191.5 549.6 L193.2 549.7 L195.0 549.7 L196.8 549.8 L198.6 549.8 L200.4 549.9 L202.1 549.9 L203.9 550.0 L205.7 550.0 L207.5 550.1 L209.2 550.2 L211.0 550.2 L212.8 550.3 L214.6 550.3 L216.4 550.4 L218.1 550.4 L219.9 550.5 L221.7 550.6 L223.5 550.6 L225.2 550.7 L227.0 550.7 L228.8 550.7 L230.6 550.8 L232.3 550.8 L234.1 550.9 L235.9 550.9 L237.7 550.9 L239.5 551.0 L241.2 551.0 L243.0 551.0 L244.8 551.1 L246.6 551.1 L248.3 551.1 L250.1 551.2 L251.9 551.2 L253.7 551.3 L255.5 551.3 L257.2 551.3 L259.0 551.4 L260.8 551.4 L262.6 551.5 L264.3 551.5 L266.1 551.6 L267.9 551.6 L269.7 551.7 L271.4 551.7 L273.2 551.8 L275.0 551.8 L276.8 551.9 L278.6 551.9 L280.3 552.0 L282.1 552.0 L283.9 552.1 L285.7 552.1 L287.4 552.1 L289.2 552.2 L291.0 552.2 L292.8 552.3 L294.6 552.3 L296.3 552.4 L298.1 552.4 L299.9 552.5 L301.7 552.5 L303.4 552.5 L305.2 552.6 L307.0 552.6 L308.8 552.7 L310.5 552.7 L312.3 552.8 L314.1 552.8 L315.9 552.8 L317.7 552.9 L319.4 552.9 L321.2 553.0 L323.0 553.0 L324.8 553.1 L326.5 553.1 L328.3 553.2 L330.1 553.2 L331.9 553.2 L333.7 553.3 L335.4 553.3 L337.2 553.4 L339.0 553.4 L340.8 553.5 L342.5 553.5 L344.3 553.5 L346.1 553.6 L347.9 553.6 L349.6 553.7 L351.4 553.7 L353.2 553.8 L355.0 553.8 L356.8 553.8 L358.5 553.9 L360.3 553.9 L362.1 554.0 L363.9 554.0 L365.6 554.1 L367.4 554.1 L369.2 554.1 L371.0 554.2 L372.8 554.2 L374.5 554.3 L376.3 554.3 L378.1 554.3 L379.9 554.4 L381.6 554.4 L383.4 554.4 L385.2 554.4 L387.0 554.5 L388.8 554.5 L390.5 554.5 L392.3 554.6 L394.1 554.6 L395.9 554.6 L397.6 554.6 L399.4 554.7 L401.2 554.7 L403.0 554.7 L404.7 554.8 L406.5 554.8 L408.3 554.8 L410.1 554.9 L411.9 554.9 L413.6 554.9 L415.4 555.0 L417.2 555.0 L419.0 555.0 L420.7 555.1 L422.5 555.1 L424.3 555.2 L426.1 555.2 L427.9 555.2 L429.6 555.3 L431.4 555.3 L433.2 555.4 L435.0 555.4 L436.7 555.4 L438.5 555.5 L440.3 555.5 L442.1 555.5 L443.8 555.6 L445.6 555.6 L447.4 555.7 L449.2 555.7 L451.0 555.7 L452.7 555.8 L454.5 555.8 L456.3 555.8 L458.1 555.8 L459.8 555.9 L461.6 555.9 L463.4 555.9 L465.2 555.9 L467.0 556.0 L468.7 556.0 L470.5 556.0 L472.3 556.0 L474.1 556.1 L475.8 556.1 L477.6 556.1 L479.4 556.1 L481.2 556.1 L482.9 556.1 L484.7 556.1 L486.5 556.2 L488.3 556.2 L490.1 556.2 L491.8 556.2 L493.6 556.2 L495.4 556.2 L497.2 556.2 L498.9 556.2 L500.7 556.2 L502.5 556.2 L504.3 556.2 L506.1 556.3 L507.8 556.3 L509.6 556.3 L511.4 556.3 L513.2 556.3 L514.9 556.3 L516.7 556.3 L518.5 556.3 L520.3 556.3 L522.0 556.3 L523.8 556.3 L525.6 556.3 L527.4 556.3 L529.2 556.3 L530.9 556.3 L532.7 556.3 L534.5 556.3 L536.3 556.3 L538.0 556.2 L539.8 556.2 L541.6 556.1 L543.4 556.0 L545.2 555.8 L546.9 555.6 L548.7 555.4 L550.5 555.2 L552.3 555.0 L554.0 554.8 L555.8 554.5 L557.6 554.3 L559.4 554.1 L561.1 553.8 L562.9 553.4 L564.7 553.1 L566.5 552.7 L568.3 552.2 L570.0 551.8 L571.8 551.3 L573.6 550.8 L575.4 550.3 L577.1 549.8 L578.9 549.4 L580.7 548.9 L582.5 548.5 L584.3 548.0 L586.0 547.4 L587.8 546.7 L589.6 545.8 L591.4 544.6 L593.1 543.2 L594.9 541.4 L596.7 539.4 L598.5 537.3 L600.2 535.1 L602.0 532.8 L603.8 530.5 L605.6 528.1 L607.4 525.7 L609.1 523.3 L610.9 520.9 L612.7 518.5 L614.5 516.1 L616.2 513.7 L618.0 511.3 L619.8 508.9 L621.6 506.5 L623.4 504.1 L625.1 501.7 L626.9 499.3 L628.7 496.9 L630.5 494.7 L632.2 492.5 L634.0 490.3 L635.8 488.0 L637.6 485.5 L639.4 482.8 L641.1 479.7 L642.9 476.2 L644.7 472.3 L646.5 468.0 L648.2 463.5 L650.0 458.8 L651.8 454.0 L653.6 449.0 L655.3 444.0 L657.1 438.9 L658.9 433.8 L660.7 428.8 L662.5 423.8 L664.2 418.8 L666.0 413.8 L667.8 408.9 L669.6 404.0 L671.3 399.3 L673.1 394.9 L674.9 390.6 L676.7 386.5 L678.5 383.0 L680.2 379.6 L682.0 376.0 L683.8 371.9 L685.6 366.9 L687.3 362.1 L689.1 358.3 L690.9 355.0 L692.7 351.9 L694.4 349.0 L696.2 346.5 L698.0 344.7 L699.8 343.5 L701.6 342.5 L703.3 342.2 L705.1 343.0 L706.9 344.3 L708.7 345.8 L710.4 347.5 L712.2 349.3 L714.0 351.1 L715.8 353.0 L717.6 355.3 L719.3 357.9 L721.1 360.5 L722.9 363.1 L724.7 365.4 L726.4 367.5 L728.2 369.2 L730.0 370.3 L731.8 371.0 L733.5 371.4 L735.3 371.7 L737.1 371.8 L738.9 371.9 L740.7 372.1 L742.4 372.4 L744.2 373.0 L746.0 373.8 L747.8 374.7 L749.5 375.6 L751.3 376.8 L753.1 378.7 L754.9 380.9 L756.7 382.9 L758.4 384.9 L760.2 386.8 L762.0 388.7 L763.8 390.7 L765.5 392.4 L767.3 393.4 L769.1 393.7 L770.9 393.8 L772.6 393.9 L774.4 394.0 L776.2 394.1 L778.0 394.3 L779.8 394.4 L781.5 394.5 L783.3 394.2 L785.1 393.7 L786.9 393.4 L788.6 393.3 L790.4 393.4 L792.2 393.5 L794.0 393.7 L795.8 393.9 L797.5 394.1 L799.3 394.4 L801.1 394.7 L802.9 395.0 L804.6 395.4 L806.4 395.9 L808.2 396.3 L810.0 396.8 L811.7 397.4 L813.5 397.9 L815.3 398.4 L817.1 399.0 L818.9 399.5 L820.6 400.1 L822.4 400.7 L824.2 401.2 L826.0 401.8 L827.7 402.4 L829.5 403.0 L831.3 403.6 L833.1 404.2 L834.9 404.8 L836.6 405.4 L838.4 406.0 L840.2 406.6 L842.0 407.2 L843.7 407.9 L845.5 408.5 L847.3 409.1 L849.1 409.8 L850.9 410.4 L852.6 411.1 L854.4 411.9 L856.2 412.6 L858.0 413.4 L859.7 414.2 L861.5 414.9 L863.3 415.7 L865.1 416.5 L866.8 417.2 L868.6 417.9 L870.4 418.6 L872.2 419.3 L874.0 419.9 L875.7 420.5 L877.5 421.0 L879.3 421.5 L881.1 422.0 L882.8 422.5 L884.6 422.9 L886.4 423.2 L888.2 423.6 L890.0 423.9 L891.7 424.2 L893.5 424.5 L895.3 424.7 L897.1 424.9 L898.8 425.1 L900.6 425.3 L902.4 425.4 L904.2 425.5 L905.9 425.6 L907.7 425.7 L909.5 425.7 L911.3 425.8 L913.1 425.8 L914.8 425.8 L916.6 425.8 L918.4 425.8 L920.2 425.7 L921.9 425.7 L923.7 425.6 L925.5 425.6 L927.3 425.5 L929.1 425.3 L930.8 425.2 L932.6 425.0 L934.4 424.8 L936.2 424.6 L937.9 424.3 L939.7 424.0 L941.5 423.7 L943.3 423.3 L945.0 422.9 L946.8 422.5 L948.6 422.0 L950.4 421.4 L952.2 420.8 L953.9 420.3 L955.7 419.7 L957.5 419.1 L959.3 418.5 L961.0 417.9 L962.8 417.3 L964.6 416.7 L966.4 416.1 L968.2 415.5 L969.9 414.9 L971.7 414.3 L973.5 413.7 L975.3 413.1 L977.0 412.5 L978.8 411.9 L980.6 411.3 L982.4 410.7 L984.1 410.1 L985.9 409.5 L987.7 408.9 L989.5 408.3 L991.3 407.8 L993.0 407.2 L994.8 406.6 L996.6 406.0 L998.4 405.4 L1000.1 404.8 L1001.9 404.3 L1003.7 403.7 L1005.5 403.1 L1007.3 402.6 L1009.0 402.0 L1010.8 401.5 L1012.6 401.1 L1014.4 400.7 L1016.1 400.4 L1017.9 400.0 L1019.7 399.8 L1021.5 399.5 L1023.2 399.3 L1025.0 399.1 L1026.8 399.0 L1028.6 398.8 L1030.4 398.7 L1032.1 398.7 L1033.9 398.6 L1035.7 398.6 L1037.5 398.6 L1039.2 398.6 L1041.0 398.6 L1042.8 398.6 L1044.6 398.6 L1046.4 398.7 L1048.1 398.7 L1049.9 398.8 L1051.7 398.8 L1053.5 398.8 L1055.2 398.9 L1057.0 398.9 L1058.8 399.0 L1060.6 399.0 L1062.3 399.1 L1064.1 399.2 L1065.9 399.2 L1067.7 399.3 L1069.5 399.4 L1071.2 399.4 L1073.0 399.5 L1074.8 399.6 L1076.6 399.7 L1078.3 399.8 L1080.1 399.9 L1081.9 399.9 L1083.7 400.0 L1085.5 400.1 L1087.2 400.2 L1089.0 400.4 L1090.8 400.5 L1092.6 400.6 L1094.3 400.7 L1096.1 400.8 L1097.9 401.0 L1099.7 401.1 L1101.5 401.2 L1103.2 401.4 L1105.0 401.5 L1106.8 401.7 L1108.6 401.8 L1110.3 402.0 L1112.1 402.1 L1113.9 402.3 L1115.7 402.5 L1117.4 402.6 L1119.2 402.8 L1121.0 402.9 L1122.8 403.1 L1124.6 403.2 L1126.3 403.4 L1128.1 403.5 L1129.9 403.7 L1131.7 403.8 L1133.4 403.9 L1135.2 404.0 L1137.0 404.1 L1138.8 404.2 L1140.6 404.4 L1142.3 404.5 L1144.1 404.5 L1145.9 404.6 L1147.7 404.7 L1149.4 404.8 L1151.2 404.9 L1153.0 404.9 L1154.8 405.0 L1156.5 405.0 L1158.3 405.1 L1160.1 405.1 L1161.9 405.1 L1163.7 405.1 L1165.4 405.1 L1167.2 405.1 L1169.0 405.1 L1170.8 405.0 L1172.5 405.0 L1174.3 404.9 L1176.1 404.9 L1177.9 404.8 L1179.7 404.7 L1181.4 404.7 L1183.2 404.6 L1185.0 404.5 L1186.8 404.4 L1188.5 404.3 L1190.3 404.3 L1192.1 404.2 L1193.9 404.1 L1195.6 404.0 L1197.4 404.0 L1199.2 403.9 L1201.0 403.8 L1202.8 403.8 L1204.5 403.7 L1206.3 403.7 L1208.1 403.6 L1209.9 403.6 L1211.6 403.5 L1213.4 403.5 L1215.2 403.5 L1217.0 403.4 L1218.8 403.4 L1220.5 403.4 L1222.3 403.4 L1224.1 403.3 L1225.9 403.3 L1227.6 403.3 L1229.4 403.3 L1231.2 403.3 L1233.0 403.3 L1234.7 403.3 L1236.5 403.3 L1238.3 403.3 L1240.1 403.3 L1241.9 403.3 L1243.6 403.4 L1245.4 403.5 L1247.2 403.6 L1249.0 403.7 L1250.7 403.8 L1252.5 404.0 L1254.3 404.1 L1256.1 404.3 L1257.9 404.5 L1259.6 404.7 L1261.4 404.9 L1263.2 405.2 L1265.0 405.4 L1266.7 405.7 L1268.5 405.9 L1270.3 406.2 L1272.1 406.5 L1273.8 406.8 L1275.6 407.1 L1277.4 407.4 L1279.2 407.8 L1281.0 408.1 L1282.7 408.4 L1284.5 408.8 L1286.3 409.1 L1288.1 409.5 L1289.8 409.9 L1291.6 410.2 L1293.4 410.6" fill="none" stroke="#808080" stroke-opacity="0.5" stroke-width="3.9" stroke-dasharray="13.7 6" stroke-linejoin="round"/>
<path d="M157.7 549.1 L159.5 549.8 L161.3 550.4 L163.0 551.0 L164.8 551.5 L166.6 551.9 L168.4 552.2 L170.1 552.5 L171.9 552.7 L173.7 552.9 L175.5 553.0 L177.3 553.1 L179.0 553.1 L180.8 553.1 L182.6 553.0 L184.4 553.0 L186.1 552.9 L187.9 552.8 L189.7 552.7 L191.5 552.5 L193.2 552.4 L195.0 552.3 L196.8 552.1 L198.6 552.0 L200.4 551.8 L202.1 551.7 L203.9 551.6 L205.7 551.5 L207.5 551.3 L209.2 551.2 L211.0 551.2 L212.8 551.1 L214.6 551.0 L216.4 550.9 L218.1 550.9 L219.9 550.8 L221.7 550.8 L223.5 550.8 L225.2 550.8 L227.0 550.8 L228.8 550.8 L230.6 550.8 L232.3 550.8 L234.1 550.8 L235.9 550.8 L237.7 550.8 L239.5 550.9 L241.2 550.9 L243.0 550.9 L244.8 551.0 L246.6 551.1 L248.3 551.1 L250.1 551.2 L251.9 551.3 L253.7 551.4 L255.5 551.4 L257.2 551.5 L259.0 551.6 L260.8 551.7 L262.6 551.8 L264.3 551.9 L266.1 551.9 L267.9 552.0 L269.7 552.1 L271.4 552.1 L273.2 552.2 L275.0 552.2 L276.8 552.2 L278.6 552.2 L280.3 552.2 L282.1 552.1 L283.9 552.1 L285.7 552.0 L287.4 551.9 L289.2 551.7 L291.0 551.6 L292.8 551.4 L294.6 551.3 L296.3 551.1 L298.1 550.9 L299.9 550.7 L301.7 550.6 L303.4 550.4 L305.2 550.2 L307.0 550.0 L308.8 549.9 L310.5 549.7 L312.3 549.6 L314.1 549.5 L315.9 549.4 L317.7 549.3 L319.4 549.2 L321.2 549.2 L323.0 549.2 L324.8 549.2 L326.5 549.3 L328.3 549.3 L330.1 549.4 L331.9 549.5 L333.7 549.7 L335.4 549.9 L337.2 550.0 L339.0 550.2 L340.8 550.5 L342.5 550.7 L344.3 550.9 L346.1 551.2 L347.9 551.5 L349.6 551.8 L351.4 552.0 L353.2 552.3 L355.0 552.6 L356.8 552.9 L358.5 553.1 L360.3 553.4 L362.1 553.6 L363.9 553.9 L365.6 554.1 L367.4 554.3 L369.2 554.4 L371.0 554.6 L372.8 554.8 L374.5 554.9 L376.3 555.0 L378.1 555.1 L379.9 555.1 L381.6 555.2 L383.4 555.3 L385.2 555.3 L387.0 555.3 L388.8 555.3 L390.5 555.3 L392.3 555.3 L394.1 555.3 L395.9 555.3 L397.6 555.3 L399.4 555.2 L401.2 555.2 L403.0 555.1 L404.7 555.1 L406.5 555.0 L408.3 554.9 L410.1 554.8 L411.9 554.8 L413.6 554.7 L415.4 554.6 L417.2 554.5 L419.0 554.4 L420.7 554.3 L422.5 554.3 L424.3 554.2 L426.1 554.1 L427.9 554.1 L429.6 554.0 L431.4 554.0 L433.2 554.0 L435.0 554.0 L436.7 554.0 L438.5 554.0 L440.3 554.1 L442.1 554.1 L443.8 554.2 L445.6 554.3 L447.4 554.4 L449.2 554.5 L451.0 554.6 L452.7 554.7 L454.5 554.8 L456.3 555.0 L458.1 555.1 L459.8 555.2 L461.6 555.4 L463.4 555.5 L465.2 555.6 L467.0 555.7 L468.7 555.8 L470.5 555.9 L472.3 556.0 L474.1 556.0 L475.8 556.1 L477.6 556.1 L479.4 556.1 L481.2 556.1 L482.9 556.1 L484.7 556.1 L486.5 556.0 L488.3 556.0 L490.1 555.9 L491.8 555.9 L493.6 555.8 L495.4 555.8 L497.2 555.7 L498.9 555.7 L500.7 555.6 L502.5 555.6 L504.3 555.6 L506.1 555.5 L507.8 555.5 L509.6 555.5 L511.4 555.5 L513.2 555.5 L514.9 555.6 L516.7 555.6 L518.5 555.7 L520.3 555.7 L522.0 555.8 L523.8 555.8 L525.6 555.9 L527.4 556.0 L529.2 556.0 L530.9 556.1 L532.7 556.2 L534.5 556.2 L536.3 556.3 L538.0 556.3 L539.8 556.3 L541.6 556.3 L543.4 556.4 L545.2 556.4 L546.9 556.3 L548.7 556.3 L550.5 556.2 L552.3 556.2 L554.0 556.1 L555.8 556.0 L557.6 555.8 L559.4 555.7 L561.1 555.5 L562.9 555.3 L564.7 555.0 L566.5 554.7 L568.3 554.4 L570.0 554.0 L571.8 553.6 L573.6 553.1 L575.4 552.6 L577.1 552.0 L578.9 551.3 L580.7 550.6 L582.5 549.8 L584.3 548.9 L586.0 547.9 L587.8 546.8 L589.6 545.6 L591.4 544.4 L593.1 543.0 L594.9 541.5 L596.7 540.0 L598.5 538.3 L600.2 536.5 L602.0 534.7 L603.8 532.7 L605.6 530.6 L607.4 528.5 L609.1 526.2 L610.9 523.9 L612.7 521.5 L614.5 518.9 L616.2 516.4 L618.0 513.7 L619.8 511.0 L621.6 508.1 L623.4 505.3 L625.1 502.3 L626.9 499.3 L628.7 496.2 L630.5 493.0 L632.2 489.8 L634.0 486.5 L635.8 483.1 L637.6 479.7 L639.4 476.2 L641.1 472.6 L642.9 469.0 L644.7 465.2 L646.5 461.4 L648.2 457.5 L650.0 453.6 L651.8 449.5 L653.6 445.4 L655.3 441.2 L657.1 437.0 L658.9 432.7 L660.7 428.3 L662.5 423.9 L664.2 419.4 L666.0 414.9 L667.8 410.4 L669.6 405.9 L671.3 401.4 L673.1 397.0 L674.9 392.6 L676.7 388.3 L678.5 384.1 L680.2 380.0 L682.0 376.0 L683.8 372.2 L685.6 368.6 L687.3 365.2 L689.1 362.0 L690.9 359.1 L692.7 356.4 L694.4 354.0 L696.2 352.0 L698.0 350.2 L699.8 348.8 L701.6 347.7 L703.3 347.0 L705.1 346.6 L706.9 346.6 L708.7 346.9 L710.4 347.6 L712.2 348.6 L714.0 349.8 L715.8 351.3 L717.6 353.0 L719.3 354.9 L721.1 356.9 L722.9 359.0 L724.7 361.0 L726.4 363.1 L728.2 365.1 L730.0 367.0 L731.8 368.7 L733.5 370.3 L735.3 371.7 L737.1 372.9 L738.9 373.9 L740.7 374.7 L742.4 375.4 L744.2 376.0 L746.0 376.4 L747.8 376.8 L749.5 377.2 L751.3 377.5 L753.1 377.9 L754.9 378.3 L756.7 378.7 L758.4 379.3 L760.2 379.9 L762.0 380.5 L763.8 381.3 L765.5 382.1 L767.3 382.9 L769.1 383.8 L770.9 384.8 L772.6 385.7 L774.4 386.7 L776.2 387.7 L778.0 388.6 L779.8 389.6 L781.5 390.4 L783.3 391.3 L785.1 392.0 L786.9 392.7 L788.6 393.4 L790.4 393.9 L792.2 394.4 L794.0 394.8 L795.8 395.1 L797.5 395.4 L799.3 395.7 L801.1 395.9 L802.9 396.1 L804.6 396.3 L806.4 396.4 L808.2 396.6 L810.0 396.8 L811.7 397.0 L813.5 397.3 L815.3 397.6 L817.1 397.9 L818.9 398.3 L820.6 398.7 L822.4 399.2 L824.2 399.7 L826.0 400.2 L827.7 400.8 L829.5 401.5 L831.3 402.1 L833.1 402.8 L834.9 403.5 L836.6 404.3 L838.4 405.0 L840.2 405.8 L842.0 406.6 L843.7 407.4 L845.5 408.2 L847.3 409.0 L849.1 409.8 L850.9 410.6 L852.6 411.4 L854.4 412.2 L856.2 413.0 L858.0 413.8 L859.7 414.5 L861.5 415.3 L863.3 416.0 L865.1 416.7 L866.8 417.4 L868.6 418.0 L870.4 418.7 L872.2 419.3 L874.0 419.9 L875.7 420.4 L877.5 421.0 L879.3 421.5 L881.1 422.0 L882.8 422.4 L884.6 422.9 L886.4 423.3 L888.2 423.6 L890.0 424.0 L891.7 424.3 L893.5 424.6 L895.3 424.8 L897.1 425.1 L898.8 425.3 L900.6 425.4 L902.4 425.6 L904.2 425.7 L905.9 425.8 L907.7 425.8 L909.5 425.9 L911.3 425.9 L913.1 425.8 L914.8 425.8 L916.6 425.7 L918.4 425.6 L920.2 425.5 L921.9 425.3 L923.7 425.2 L925.5 425.0 L927.3 424.7 L929.1 424.5 L930.8 424.2 L932.6 423.9 L934.4 423.6 L936.2 423.3 L937.9 423.0 L939.7 422.6 L941.5 422.2 L943.3 421.8 L945.0 421.4 L946.8 421.0 L948.6 420.5 L950.4 420.1 L952.2 419.6 L953.9 419.1 L955.7 418.6 L957.5 418.1 L959.3 417.6 L961.0 417.1 L962.8 416.6 L964.6 416.1 L966.4 415.6 L968.2 415.0 L969.9 414.5 L971.7 414.0 L973.5 413.5 L975.3 413.0 L977.0 412.5 L978.8 412.0 L980.6 411.5 L982.4 411.0 L984.1 410.5 L985.9 410.0 L987.7 409.5 L989.5 409.1 L991.3 408.6 L993.0 408.1 L994.8 407.7 L996.6 407.2 L998.4 406.8 L1000.1 406.3 L1001.9 405.9 L1003.7 405.5 L1005.5 405.0 L1007.3 404.6 L1009.0 404.2 L1010.8 403.8 L1012.6 403.4 L1014.4 403.0 L1016.1 402.6 L1017.9 402.2 L1019.7 401.8 L1021.5 401.4 L1023.2 401.1 L1025.0 400.8 L1026.8 400.4 L1028.6 400.1 L1030.4 399.8 L1032.1 399.6 L1033.9 399.3 L1035.7 399.1 L1037.5 398.9 L1039.2 398.7 L1041.0 398.6 L1042.8 398.4 L1044.6 398.3 L1046.4 398.2 L1048.1 398.2 L1049.9 398.1 L1051.7 398.1 L1053.5 398.1 L1055.2 398.1 L1057.0 398.1 L1058.8 398.2 L1060.6 398.2 L1062.3 398.3 L1064.1 398.4 L1065.9 398.4 L1067.7 398.5 L1069.5 398.6 L1071.2 398.7 L1073.0 398.9 L1074.8 399.0 L1076.6 399.1 L1078.3 399.2 L1080.1 399.4 L1081.9 399.5 L1083.7 399.6 L1085.5 399.8 L1087.2 399.9 L1089.0 400.1 L1090.8 400.2 L1092.6 400.4 L1094.3 400.6 L1096.1 400.7 L1097.9 400.9 L1099.7 401.1 L1101.5 401.3 L1103.2 401.5 L1105.0 401.6 L1106.8 401.8 L1108.6 402.0 L1110.3 402.2 L1112.1 402.4 L1113.9 402.6 L1115.7 402.8 L1117.4 402.9 L1119.2 403.1 L1121.0 403.3 L1122.8 403.4 L1124.6 403.6 L1126.3 403.7 L1128.1 403.9 L1129.9 404.0 L1131.7 404.1 L1133.4 404.3 L1135.2 404.4 L1137.0 404.5 L1138.8 404.5 L1140.6 404.6 L1142.3 404.7 L1144.1 404.7 L1145.9 404.8 L1147.7 404.8 L1149.4 404.9 L1151.2 404.9 L1153.0 404.9 L1154.8 405.0 L1156.5 405.0 L1158.3 405.0 L1160.1 405.0 L1161.9 405.0 L1163.7 405.1 L1165.4 405.1 L1167.2 405.1 L1169.0 405.1 L1170.8 405.1 L1172.5 405.1 L1174.3 405.2 L1176.1 405.2 L1177.9 405.2 L1179.7 405.2 L1181.4 405.2 L1183.2 405.2 L1185.0 405.2 L1186.8 405.2 L1188.5 405.2 L1190.3 405.2 L1192.1 405.2 L1193.9 405.2 L1195.6 405.1 L1197.4 405.1 L1199.2 405.0 L1201.0 405.0 L1202.8 404.9 L1204.5 404.8 L1206.3 404.8 L1208.1 404.7 L1209.9 404.6 L1211.6 404.5 L1213.4 404.4 L1215.2 404.3 L1217.0 404.2 L1218.8 404.1 L1220.5 404.0 L1222.3 403.9 L1224.1 403.8 L1225.9 403.7 L1227.6 403.6 L1229.4 403.5 L1231.2 403.5 L1233.0 403.4 L1234.7 403.3 L1236.5 403.3 L1238.3 403.3 L1240.1 403.3 L1241.9 403.3 L1243.6 403.3 L1245.4 403.4 L1247.2 403.4 L1249.0 403.5 L1250.7 403.6 L1252.5 403.7 L1254.3 403.8 L1256.1 403.9 L1257.9 404.1 L1259.6 404.3 L1261.4 404.4 L1263.2 404.6 L1265.0 404.8 L1266.7 405.1 L1268.5 405.3 L1270.3 405.6 L1272.1 405.8 L1273.8 406.1 L1275.6 406.4 L1277.4 406.8 L1279.2 407.1 L1281.0 407.5 L1282.7 407.8 L1284.5 408.2 L1286.3 408.7 L1288.1 409.1 L1289.8 409.6 L1291.6 410.1 L1293.4 410.6" fill="none" stroke="#1f77b4" stroke-width="3.0" stroke-linejoin="round" stroke-linecap="square"/>
</g>
<rect x="92.2" y="423.90" width="8.5" height="2.2" fill="#000"/>
<rect x="92.2" y="534.35" width="8.5" height="2.2" fill="#000"/>
</g>
<g id="panel3">
<clipPath id="c2"><rect x="101.0" y="614.4" width="1249.0" height="286.05"/></clipPath>
<g clip-path="url(#c2)">
<path d="M157.7 835.0 L159.5 834.0 L161.3 833.0 L163.0 832.1 L164.8 831.4 L166.6 830.8 L168.4 830.3 L170.1 830.0 L171.9 829.8 L173.7 829.8 L175.5 829.9 L177.3 830.2 L179.0 830.6 L180.8 831.2 L182.6 831.9 L184.4 832.7 L186.1 833.6 L187.9 834.5 L189.7 835.4 L191.5 834.2 L193.2 833.0 L195.0 831.8 L196.8 830.7 L198.6 829.8 L200.4 829.0 L202.1 828.3 L203.9 827.8 L205.7 827.5 L207.5 827.3 L209.2 827.4 L211.0 827.6 L212.8 827.9 L214.6 828.4 L216.4 829.1 L218.1 829.9 L219.9 830.8 L221.7 831.8 L223.5 832.9 L225.2 834.0 L227.0 835.2 L228.8 836.3 L230.6 836.1 L232.3 835.3 L234.1 834.5 L235.9 833.9 L237.7 833.4 L239.5 833.0 L241.2 832.7 L243.0 832.7 L244.8 832.8 L246.6 833.0 L248.3 833.4 L250.1 833.9 L251.9 834.6 L253.7 835.3 L255.5 836.2 L257.2 837.0 L259.0 836.8 L260.8 836.0 L262.6 835.3 L264.3 834.7 L266.1 834.2 L267.9 833.9 L269.7 833.7 L271.4 833.7 L273.2 833.8 L275.0 834.1 L276.8 834.6 L278.6 835.3 L280.3 836.1 L282.1 837.0 L283.9 837.9 L285.7 837.1 L287.4 836.1 L289.2 835.2 L291.0 834.2 L292.8 833.3 L294.6 832.5 L296.3 831.8 L298.1 831.2 L299.9 830.7 L301.7 830.4 L303.4 830.2 L305.2 830.1 L307.0 830.3 L308.8 830.6 L310.5 831.0 L312.3 831.7 L314.1 832.4 L315.9 833.3 L317.7 834.3 L319.4 835.5 L321.2 836.6 L323.0 837.9 L324.8 838.8 L326.5 837.6 L328.3 836.4 L330.1 835.3 L331.9 834.2 L333.7 833.2 L335.4 832.4 L337.2 831.6 L339.0 831.0 L340.8 830.6 L342.5 830.3 L344.3 830.2 L346.1 830.2 L347.9 830.4 L349.6 830.8 L351.4 831.4 L353.2 832.1 L355.0 832.9 L356.8 833.9 L358.5 835.0 L360.3 836.2 L362.1 837.4 L363.9 838.8 L365.6 839.9 L367.4 838.6 L369.2 837.3 L371.0 836.1 L372.8 834.9 L374.5 833.8 L376.3 832.8 L378.1 832.0 L379.9 831.3 L381.6 830.7 L383.4 830.3 L385.2 830.0 L387.0 829.9 L388.8 830.0 L390.5 830.2 L392.3 830.6 L394.1 831.2 L395.9 831.9 L397.6 832.7 L399.4 833.7 L401.2 834.7 L403.0 835.9 L404.7 837.1 L406.5 838.4 L408.3 839.7 L410.1 840.6 L411.9 839.4 L413.6 838.3 L415.4 837.3 L417.2 836.3 L419.0 835.5 L420.7 834.8 L422.5 834.3 L424.3 833.9 L426.1 833.7 L427.9 833.6 L429.6 833.7 L431.4 834.0 L433.2 834.4 L435.0 835.0 L436.7 835.7 L438.5 836.5 L440.3 837.4 L442.1 838.4 L443.8 839.4 L445.6 840.5 L447.4 841.5 L449.2 840.8 L451.0 839.9 L452.7 839.2 L454.5 838.6 L456.3 838.1 L458.1 837.8 L459.8 837.6 L461.6 837.6 L463.4 837.8 L465.2 838.1 L467.0 838.6 L468.7 839.2 L470.5 839.9 L472.3 840.8 L474.1 841.6 L475.8 841.5 L477.6 840.6 L479.4 839.8 L481.2 839.1 L482.9 838.4 L484.7 837.8 L486.5 837.4 L488.3 837.2 L490.1 837.0 L491.8 837.1 L493.6 837.3 L495.4 837.6 L497.2 838.1 L498.9 838.7 L500.7 839.4 L502.5 840.2 L504.3 841.0 L506.1 841.9 L507.8 841.6 L509.6 840.8 L511.4 840.0 L513.2 839.3 L514.9 838.8 L516.7 838.3 L518.5 838.1 L520.3 837.9 L522.0 838.0 L523.8 838.1 L525.6 838.5 L527.4 838.9 L529.2 839.5 L530.9 840.1 L532.7 840.8 L534.5 841.5 L536.3 842.2 L538.0 841.5 L539.8 840.9 L541.6 840.4 L543.4 839.9 L545.2 839.6 L546.9 839.4 L548.7 839.4 L550.5 839.4 L552.3 839.5 L554.0 839.7 L555.8 839.9 L557.6 840.2 L559.4 839.5 L561.1 838.6 L562.9 837.8 L564.7 837.0 L566.5 836.4 L568.3 836.0 L570.0 835.6 L571.8 835.4 L573.6 835.3 L575.4 835.3 L577.1 835.4 L578.9 835.2 L580.7 834.4 L582.5 833.6 L584.3 832.8 L586.0 832.1 L587.8 831.4 L589.6 830.6 L591.4 829.7 L593.1 828.8 L594.9 827.3 L596.7 825.2 L598.5 823.0 L600.2 820.8 L602.0 818.4 L603.8 816.1 L605.6 813.8 L607.4 811.5 L609.1 809.1 L610.9 806.1 L612.7 803.1 L614.5 800.2 L616.2 797.5 L618.0 795.0 L619.8 792.6 L621.6 790.5 L623.4 788.6 L625.1 786.8 L626.9 785.2 L628.7 782.8 L630.5 780.3 L632.2 777.9 L634.0 775.5 L635.8 773.0 L637.6 770.5 L639.4 767.8 L641.1 765.0 L642.9 761.9 L644.7 758.2 L646.5 753.6 L648.2 748.8 L650.0 743.8 L651.8 738.7 L653.6 733.6 L655.3 728.5 L657.1 723.6 L658.9 718.9 L660.7 714.3 L662.5 709.7 L664.2 704.6 L666.0 699.6 L667.8 694.9 L669.6 690.3 L671.3 686.0 L673.1 681.8 L674.9 677.8 L676.7 673.9 L678.5 670.0 L680.2 666.1 L682.0 662.1 L683.8 657.7 L685.6 653.0 L687.3 648.5 L689.1 644.3 L690.9 640.6 L692.7 637.3 L694.4 634.6 L696.2 632.5 L698.0 630.4 L699.8 628.9 L701.6 628.1 L703.3 628.0 L705.1 628.6 L706.9 629.7 L708.7 631.4 L710.4 633.5 L712.2 635.1 L714.0 636.7 L715.8 638.5 L717.6 640.4 L719.3 642.3 L721.1 644.2 L722.9 646.2 L724.7 648.2 L726.4 650.1 L728.2 651.9 L730.0 653.6 L731.8 655.1 L733.5 656.5 L735.3 657.7 L737.1 657.8 L738.9 657.8 L740.7 657.9 L742.4 658.1 L744.2 658.4 L746.0 659.1 L747.8 660.0 L749.5 661.3 L751.3 662.8 L753.1 664.2 L754.9 665.5 L756.7 667.0 L758.4 668.8 L760.2 670.7 L762.0 672.8 L763.8 674.9 L765.5 677.0 L767.3 678.9 L769.1 680.1 L770.9 680.5 L772.6 680.8 L774.4 680.8 L776.2 680.6 L778.0 680.3 L779.8 680.0 L781.5 679.7 L783.3 679.5 L785.1 679.3 L786.9 679.2 L788.6 679.2 L790.4 678.2 L792.2 677.5 L794.0 676.9 L795.8 676.6 L797.5 676.5 L799.3 676.7 L801.1 677.2 L802.9 677.9 L804.6 678.9 L806.4 680.1 L808.2 681.5 L810.0 682.8 L811.7 682.8 L813.5 682.7 L815.3 682.6 L817.1 682.5 L818.9 682.4 L820.6 682.3 L822.4 682.4 L824.2 682.5 L826.0 682.7 L827.7 683.0 L829.5 683.4 L831.3 684.0 L833.1 684.7 L834.9 685.5 L836.6 686.5 L838.4 687.6 L840.2 688.8 L842.0 690.1 L843.7 691.5 L845.5 693.0 L847.3 694.5 L849.1 695.5 L850.9 695.3 L852.6 695.2 L854.4 695.3 L856.2 695.5 L858.0 695.9 L859.7 696.5 L861.5 697.2 L863.3 698.1 L865.1 699.2 L866.8 700.5 L868.6 701.9 L870.4 703.4 L872.2 704.9 L874.0 705.3 L875.7 705.0 L877.5 704.6 L879.3 704.1 L881.1 703.7 L882.8 703.3 L884.6 702.9 L886.4 702.7 L888.2 702.5 L890.0 702.4 L891.7 702.4 L893.5 702.5 L895.3 702.7 L897.1 703.1 L898.8 703.6 L900.6 704.2 L902.4 704.9 L904.2 705.7 L905.9 706.6 L907.7 707.6 L909.5 708.7 L911.3 709.8 L913.1 711.0 L914.8 711.5 L916.6 710.3 L918.4 709.2 L920.2 708.1 L921.9 707.1 L923.7 706.2 L925.5 705.4 L927.3 704.8 L929.1 704.3 L930.8 703.9 L932.6 703.7 L934.4 703.6 L936.2 703.6 L937.9 703.8 L939.7 704.1 L941.5 704.4 L943.3 704.9 L945.0 705.4 L946.8 705.9 L948.6 706.5 L950.4 707.0 L952.2 706.4 L953.9 705.0 L955.7 703.8 L957.5 702.6 L959.3 701.5 L961.0 700.6 L962.8 699.8 L964.6 699.2 L966.4 698.7 L968.2 698.4 L969.9 698.2 L971.7 698.1 L973.5 698.1 L975.3 698.2 L977.0 698.4 L978.8 697.1 L980.6 695.6 L982.4 694.2 L984.1 692.8 L985.9 691.6 L987.7 690.5 L989.5 689.6 L991.3 688.8 L993.0 688.2 L994.8 687.7 L996.6 687.5 L998.4 687.4 L1000.1 687.5 L1001.9 687.7 L1003.7 688.0 L1005.5 688.5 L1007.3 688.2 L1009.0 686.8 L1010.8 685.4 L1012.6 684.1 L1014.4 682.9 L1016.1 681.9 L1017.9 680.9 L1019.7 680.1 L1021.5 679.5 L1023.2 679.1 L1025.0 678.9 L1026.8 678.8 L1028.6 679.0 L1030.4 679.3 L1032.1 679.8 L1033.9 680.5 L1035.7 681.4 L1037.5 682.4 L1039.2 683.6 L1041.0 684.4 L1042.8 683.0 L1044.6 681.6 L1046.4 680.2 L1048.1 678.9 L1049.9 677.6 L1051.7 676.3 L1053.5 675.1 L1055.2 674.0 L1057.0 673.0 L1058.8 672.1 L1060.6 671.4 L1062.3 670.7 L1064.1 670.2 L1065.9 669.9 L1067.7 669.7 L1069.5 669.7 L1071.2 669.8 L1073.0 670.0 L1074.8 670.4 L1076.6 671.0 L1078.3 671.7 L1080.1 672.5 L1081.9 673.5 L1083.7 674.5 L1085.5 675.7 L1087.2 677.0 L1089.0 678.3 L1090.8 679.7 L1092.6 681.2 L1094.3 682.7 L1096.1 684.2 L1097.9 685.6 L1099.7 687.1 L1101.5 686.0 L1103.2 685.0 L1105.0 684.1 L1106.8 683.3 L1108.6 682.8 L1110.3 682.3 L1112.1 682.1 L1113.9 682.0 L1115.7 682.2 L1117.4 682.5 L1119.2 682.9 L1121.0 683.6 L1122.8 684.4 L1124.6 685.3 L1126.3 686.3 L1128.1 687.4 L1129.9 688.6 L1131.7 689.8 L1133.4 688.9 L1135.2 688.0 L1137.0 687.1 L1138.8 686.3 L1140.6 685.7 L1142.3 685.1 L1144.1 684.6 L1145.9 684.3 L1147.7 684.2 L1149.4 684.2 L1151.2 684.3 L1153.0 684.6 L1154.8 685.1 L1156.5 685.7 L1158.3 686.4 L1160.1 687.2 L1161.9 688.2 L1163.7 689.2 L1165.4 690.2 L1167.2 690.9 L1169.0 689.8 L1170.8 688.7 L1172.5 687.7 L1174.3 686.7 L1176.1 685.9 L1177.9 685.2 L1179.7 684.6 L1181.4 684.1 L1183.2 683.8 L1185.0 683.7 L1186.8 683.7 L1188.5 683.9 L1190.3 684.3 L1192.1 684.8 L1193.9 685.4 L1195.6 686.2 L1197.4 687.1 L1199.2 688.0 L1201.0 689.1 L1202.8 689.4 L1204.5 688.2 L1206.3 687.0 L1208.1 685.9 L1209.9 684.9 L1211.6 683.9 L1213.4 683.1 L1215.2 682.4 L1217.0 681.9 L1218.8 681.6 L1220.5 681.4 L1222.3 681.4 L1224.1 681.6 L1225.9 682.0 L1227.6 682.5 L1229.4 683.2 L1231.2 684.1 L1233.0 685.1 L1234.7 686.3 L1236.5 687.6 L1238.3 689.0 L1240.1 688.2 L1241.9 686.8 L1243.6 685.4 L1245.4 684.0 L1247.2 682.6 L1249.0 681.3 L1250.7 680.0 L1252.5 678.9 L1254.3 677.8 L1256.1 676.9 L1257.9 676.1 L1259.6 675.4 L1261.4 674.9 L1263.2 674.6 L1265.0 674.4 L1266.7 674.4 L1268.5 674.6 L1270.3 675.0 L1272.1 675.5 L1273.8 676.3 L1275.6 677.2 L1277.4 678.4 L1279.2 679.7 L1281.0 681.2 L1282.7 682.9 L1284.5 684.8 L1286.3 686.9 L1288.1 689.1 L1289.8 691.5 L1291.6 694.0 L1293.4 696.6 L1293.4 696.6 L1291.6 698.1 L1289.8 699.5 L1288.1 700.9 L1286.3 702.2 L1284.5 703.4 L1282.7 704.4 L1281.0 705.4 L1279.2 706.2 L1277.4 706.9 L1275.6 707.4 L1273.8 707.8 L1272.1 708.0 L1270.3 708.1 L1268.5 708.0 L1266.7 707.8 L1265.0 707.4 L1263.2 706.9 L1261.4 706.2 L1259.6 705.4 L1257.9 704.4 L1256.1 703.4 L1254.3 702.2 L1252.5 700.9 L1250.7 699.5 L1249.0 698.1 L1247.2 696.6 L1245.4 695.1 L1243.6 693.5 L1241.9 692.0 L1240.1 690.4 L1238.3 689.6 L1236.5 690.9 L1234.7 692.2 L1233.0 693.3 L1231.2 694.3 L1229.4 695.2 L1227.6 695.9 L1225.9 696.5 L1224.1 696.9 L1222.3 697.1 L1220.5 697.1 L1218.8 697.0 L1217.0 696.7 L1215.2 696.3 L1213.4 695.7 L1211.6 695.0 L1209.9 694.2 L1208.1 693.3 L1206.3 692.3 L1204.5 691.2 L1202.8 690.1 L1201.0 690.6 L1199.2 691.8 L1197.4 692.9 L1195.6 694.0 L1193.9 694.9 L1192.1 695.7 L1190.3 696.4 L1188.5 696.9 L1186.8 697.3 L1185.0 697.5 L1183.2 697.5 L1181.4 697.3 L1179.7 697.0 L1177.9 696.6 L1176.1 695.9 L1174.3 695.2 L1172.5 694.3 L1170.8 693.4 L1169.0 692.3 L1167.2 691.3 L1165.4 692.0 L1163.7 693.1 L1161.9 694.1 L1160.1 695.0 L1158.3 695.8 L1156.5 696.5 L1154.8 697.0 L1153.0 697.4 L1151.2 697.6 L1149.4 697.6 L1147.7 697.5 L1145.9 697.1 L1144.1 696.7 L1142.3 696.0 L1140.6 695.2 L1138.8 694.3 L1137.0 693.3 L1135.2 692.2 L1133.4 691.0 L1131.7 689.8 L1129.9 690.7 L1128.1 691.6 L1126.3 692.4 L1124.6 693.1 L1122.8 693.7 L1121.0 694.2 L1119.2 694.5 L1117.4 694.6 L1115.7 694.6 L1113.9 694.4 L1112.1 694.0 L1110.3 693.5 L1108.6 692.8 L1106.8 691.9 L1105.0 690.9 L1103.2 689.7 L1101.5 688.4 L1099.7 687.1 L1097.9 688.3 L1096.1 689.6 L1094.3 690.9 L1092.6 692.1 L1090.8 693.4 L1089.0 694.7 L1087.2 695.8 L1085.5 696.9 L1083.7 698.0 L1081.9 698.9 L1080.1 699.7 L1078.3 700.3 L1076.6 700.9 L1074.8 701.2 L1073.0 701.5 L1071.2 701.6 L1069.5 701.5 L1067.7 701.3 L1065.9 700.9 L1064.1 700.4 L1062.3 699.7 L1060.6 698.9 L1058.8 698.0 L1057.0 696.9 L1055.2 695.8 L1053.5 694.5 L1051.7 693.2 L1049.9 691.8 L1048.1 690.4 L1046.4 689.0 L1044.6 687.6 L1042.8 686.2 L1041.0 684.8 L1039.2 685.7 L1037.5 686.9 L1035.7 688.1 L1033.9 689.1 L1032.1 690.0 L1030.4 690.8 L1028.6 691.4 L1026.8 691.9 L1025.0 692.2 L1023.2 692.4 L1021.5 692.4 L1019.7 692.3 L1017.9 692.0 L1016.1 691.7 L1014.4 691.2 L1012.6 690.7 L1010.8 690.2 L1009.0 689.6 L1007.3 689.0 L1005.5 689.6 L1003.7 691.0 L1001.9 692.3 L1000.1 693.6 L998.4 694.7 L996.6 695.7 L994.8 696.6 L993.0 697.3 L991.3 697.9 L989.5 698.3 L987.7 698.6 L985.9 698.8 L984.1 698.9 L982.4 698.8 L980.6 698.7 L978.8 698.6 L977.0 698.6 L975.3 700.1 L973.5 701.5 L971.7 702.9 L969.9 704.1 L968.2 705.2 L966.4 706.2 L964.6 706.9 L962.8 707.5 L961.0 707.9 L959.3 708.1 L957.5 708.2 L955.7 708.1 L953.9 707.8 L952.2 707.5 L950.4 707.8 L948.6 709.2 L946.8 710.5 L945.0 711.8 L943.3 713.0 L941.5 714.2 L939.7 715.2 L937.9 716.0 L936.2 716.7 L934.4 717.2 L932.6 717.6 L930.8 717.7 L929.1 717.7 L927.3 717.5 L925.5 717.1 L923.7 716.6 L921.9 715.9 L920.2 715.1 L918.4 714.2 L916.6 713.2 L914.8 712.1 L913.1 712.7 L911.3 713.9 L909.5 715.0 L907.7 716.0 L905.9 717.0 L904.2 717.8 L902.4 718.4 L900.6 719.0 L898.8 719.3 L897.1 719.5 L895.3 719.5 L893.5 719.3 L891.7 718.9 L890.0 718.3 L888.2 717.5 L886.4 716.6 L884.6 715.5 L882.8 714.2 L881.1 712.8 L879.3 711.4 L877.5 709.8 L875.7 708.2 L874.0 706.6 L872.2 705.6 L870.4 705.8 L868.6 705.8 L866.8 705.7 L865.1 705.4 L863.3 705.0 L861.5 704.4 L859.7 703.6 L858.0 702.6 L856.2 701.5 L854.4 700.3 L852.6 698.9 L850.9 697.5 L849.1 696.0 L847.3 695.8 L845.5 696.2 L843.7 696.5 L842.0 696.9 L840.2 697.2 L838.4 697.4 L836.6 697.5 L834.9 697.5 L833.1 697.4 L831.3 697.1 L829.5 696.7 L827.7 696.1 L826.0 695.3 L824.2 694.4 L822.4 693.3 L820.6 692.1 L818.9 690.7 L817.1 689.3 L815.3 687.7 L813.5 686.1 L811.7 684.5 L810.0 682.9 L808.2 682.8 L806.4 682.7 L804.6 682.5 L802.9 682.2 L801.1 681.9 L799.3 681.5 L797.5 681.0 L795.8 680.6 L794.0 680.2 L792.2 679.8 L790.4 679.5 L788.6 679.3 L786.9 680.2 L785.1 681.2 L783.3 682.2 L781.5 683.0 L779.8 683.7 L778.0 684.0 L776.2 684.1 L774.4 683.8 L772.6 683.1 L770.9 682.0 L769.1 680.6 L767.3 679.3 L765.5 678.1 L763.8 676.7 L762.0 675.0 L760.2 673.0 L758.4 670.9 L756.7 668.8 L754.9 666.7 L753.1 664.6 L751.3 663.2 L749.5 662.5 L747.8 661.9 L746.0 661.4 L744.2 661.0 L742.4 660.6 L740.7 660.1 L738.9 659.5 L737.1 658.7 L735.3 657.7 L733.5 657.5 L731.8 657.1 L730.0 656.5 L728.2 655.6 L726.4 654.3 L724.7 652.8 L722.9 650.9 L721.1 648.8 L719.3 646.4 L717.6 643.8 L715.8 641.2 L714.0 638.5 L712.2 635.9 L710.4 633.6 L708.7 632.3 L706.9 631.1 L705.1 630.3 L703.3 629.8 L701.6 629.7 L699.8 630.1 L698.0 631.0 L696.2 632.6 L694.4 635.3 L692.7 638.5 L690.9 642.1 L689.1 646.0 L687.3 650.0 L685.6 654.1 L683.8 658.1 L682.0 662.5 L680.2 667.3 L678.5 672.0 L676.7 676.5 L674.9 680.9 L673.1 685.2 L671.3 689.4 L669.6 693.4 L667.8 697.5 L666.0 701.5 L664.2 705.6 L662.5 709.9 L660.7 715.1 L658.9 720.5 L657.1 725.9 L655.3 731.2 L653.6 736.5 L651.8 741.5 L650.0 746.2 L648.2 750.6 L646.5 754.7 L644.7 758.4 L642.9 762.4 L641.1 766.3 L639.4 769.8 L637.6 772.9 L635.8 775.6 L634.0 777.9 L632.2 780.0 L630.5 781.8 L628.7 783.5 L626.9 785.2 L625.1 787.7 L623.4 790.2 L621.6 792.7 L619.8 795.2 L618.0 797.7 L616.2 800.1 L614.5 802.4 L612.7 804.7 L610.9 807.0 L609.1 809.3 L607.4 812.1 L605.6 815.1 L603.8 817.8 L602.0 820.3 L600.2 822.6 L598.5 824.5 L596.7 826.2 L594.9 827.6 L593.1 829.2 L591.4 830.9 L589.6 832.3 L587.8 833.4 L586.0 834.2 L584.3 834.8 L582.5 835.2 L580.7 835.4 L578.9 835.4 L577.1 836.1 L575.4 837.0 L573.6 837.8 L571.8 838.5 L570.0 839.1 L568.3 839.7 L566.5 840.1 L564.7 840.3 L562.9 840.4 L561.1 840.4 L559.4 840.3 L557.6 840.4 L555.8 841.3 L554.0 842.1 L552.3 842.8 L550.5 843.4 L548.7 843.8 L546.9 844.1 L545.2 844.2 L543.4 844.1 L541.6 843.8 L539.8 843.4 L538.0 842.8 L536.3 842.2 L534.5 842.9 L532.7 843.7 L530.9 844.4 L529.2 845.0 L527.4 845.5 L525.6 846.0 L523.8 846.3 L522.0 846.5 L520.3 846.5 L518.5 846.3 L516.7 846.1 L514.9 845.6 L513.2 845.1 L511.4 844.4 L509.6 843.6 L507.8 842.8 L506.1 842.5 L504.3 843.3 L502.5 844.2 L500.7 845.0 L498.9 845.7 L497.2 846.2 L495.4 846.7 L493.6 847.0 L491.8 847.2 L490.1 847.2 L488.3 847.1 L486.5 846.8 L484.7 846.3 L482.9 845.7 L481.2 845.1 L479.4 844.3 L477.6 843.4 L475.8 842.5 L474.1 842.4 L472.3 843.2 L470.5 844.0 L468.7 844.7 L467.0 845.2 L465.2 845.7 L463.4 845.9 L461.6 846.1 L459.8 846.0 L458.1 845.8 L456.3 845.4 L454.5 844.9 L452.7 844.2 L451.0 843.4 L449.2 842.5 L447.4 841.7 L445.6 842.7 L443.8 843.6 L442.1 844.6 L440.3 845.5 L438.5 846.3 L436.7 847.0 L435.0 847.6 L433.2 848.1 L431.4 848.5 L429.6 848.7 L427.9 848.7 L426.1 848.6 L424.3 848.3 L422.5 847.9 L420.7 847.2 L419.0 846.5 L417.2 845.6 L415.4 844.6 L413.6 843.5 L411.9 842.3 L410.1 841.0 L408.3 841.8 L406.5 843.0 L404.7 844.2 L403.0 845.4 L401.2 846.4 L399.4 847.4 L397.6 848.3 L395.9 849.1 L394.1 849.7 L392.3 850.2 L390.5 850.5 L388.8 850.7 L387.0 850.7 L385.2 850.5 L383.4 850.2 L381.6 849.7 L379.9 849.1 L378.1 848.4 L376.3 847.5 L374.5 846.4 L372.8 845.3 L371.0 844.1 L369.2 842.8 L367.4 841.5 L365.6 840.1 L363.9 841.2 L362.1 842.4 L360.3 843.6 L358.5 844.7 L356.8 845.7 L355.0 846.6 L353.2 847.4 L351.4 848.0 L349.6 848.4 L347.9 848.7 L346.1 848.8 L344.3 848.8 L342.5 848.6 L340.8 848.2 L339.0 847.6 L337.2 847.0 L335.4 846.1 L333.7 845.2 L331.9 844.1 L330.1 843.0 L328.3 841.8 L326.5 840.5 L324.8 839.2 L323.0 840.0 L321.2 841.2 L319.4 842.3 L317.7 843.3 L315.9 844.2 L314.1 845.0 L312.3 845.7 L310.5 846.2 L308.8 846.6 L307.0 846.8 L305.2 846.9 L303.4 846.8 L301.7 846.5 L299.9 846.1 L298.1 845.5 L296.3 844.8 L294.6 844.0 L292.8 843.1 L291.0 842.1 L289.2 841.1 L287.4 840.0 L285.7 839.0 L283.9 838.1 L282.1 838.9 L280.3 839.7 L278.6 840.4 L276.8 840.9 L275.0 841.3 L273.2 841.5 L271.4 841.6 L269.7 841.4 L267.9 841.2 L266.1 840.7 L264.3 840.2 L262.6 839.5 L260.8 838.7 L259.0 837.9 L257.2 837.6 L255.5 838.4 L253.7 839.2 L251.9 839.9 L250.1 840.5 L248.3 841.0 L246.6 841.3 L244.8 841.6 L243.0 841.6 L241.2 841.5 L239.5 841.2 L237.7 840.7 L235.9 840.1 L234.1 839.3 L232.3 838.4 L230.6 837.4 L228.8 837.0 L227.0 837.9 L225.2 838.8 L223.5 839.7 L221.7 840.6 L219.9 841.3 L218.1 842.0 L216.4 842.5 L214.6 842.9 L212.8 843.2 L211.0 843.4 L209.2 843.4 L207.5 843.2 L205.7 842.9 L203.9 842.5 L202.1 842.0 L200.4 841.3 L198.6 840.5 L196.8 839.6 L195.0 838.6 L193.2 837.6 L191.5 836.6 L189.7 835.6 L187.9 836.7 L186.1 837.9 L184.4 839.1 L182.6 840.2 L180.8 841.2 L179.0 842.0 L177.3 842.6 L175.5 843.1 L173.7 843.4 L171.9 843.4 L170.1 843.2 L168.4 842.8 L166.6 842.1 L164.8 841.2 L163.0 840.0 L161.3 838.6 L159.5 836.9 L157.7 835.0 Z" fill="#1f77b4" fill-opacity="0.5"/>
<circle cx="157.7" cy="835.0" r="5.2" fill="#ff7f0e"/>
<circle cx="189.6" cy="835.5" r="5.2" fill="#ff7f0e"/>
<circle cx="229.4" cy="836.7" r="5.2" fill="#ff7f0e"/>
<circle cx="257.8" cy="837.3" r="5.2" fill="#ff7f0e"/>
<circle cx="284.0" cy="838.0" r="5.2" fill="#ff7f0e"/>
<circle cx="324.5" cy="839.0" r="5.2" fill="#ff7f0e"/>
<circle cx="365.5" cy="840.0" r="5.2" fill="#ff7f0e"/>
<circle cx="409.8" cy="840.8" r="5.2" fill="#ff7f0e"/>
<circle cx="447.6" cy="841.6" r="5.2" fill="#ff7f0e"/>
<circle cx="474.8" cy="842.0" r="5.2" fill="#ff7f0e"/>
<circle cx="506.6" cy="842.2" r="5.2" fill="#ff7f0e"/>
<circle cx="536.3" cy="842.2" r="5.2" fill="#ff7f0e"/>
<circle cx="558.0" cy="840.2" r="5.2" fill="#ff7f0e"/>
<circle cx="578.6" cy="835.4" r="5.2" fill="#ff7f0e"/>
<circle cx="594.2" cy="828.1" r="5.2" fill="#ff7f0e"/>
<circle cx="608.8" cy="809.7" r="5.2" fill="#ff7f0e"/>
<circle cx="627.0" cy="785.1" r="5.2" fill="#ff7f0e"/>
<circle cx="644.1" cy="759.6" r="5.2" fill="#ff7f0e"/>
<circle cx="662.2" cy="710.5" r="5.2" fill="#ff7f0e"/>
<circle cx="682.9" cy="660.1" r="5.2" fill="#ff7f0e"/>
<circle cx="696.5" cy="632.2" r="5.2" fill="#ff7f0e"/>
<circle cx="710.6" cy="633.7" r="5.2" fill="#ff7f0e"/>
<circle cx="735.3" cy="657.7" r="5.2" fill="#ff7f0e"/>
<circle cx="752.2" cy="663.7" r="5.2" fill="#ff7f0e"/>
<circle cx="768.0" cy="679.6" r="5.2" fill="#ff7f0e"/>
<circle cx="788.4" cy="679.3" r="5.2" fill="#ff7f0e"/>
<circle cx="809.8" cy="682.8" r="5.2" fill="#ff7f0e"/>
<circle cx="848.6" cy="695.6" r="5.2" fill="#ff7f0e"/>
<circle cx="872.8" cy="705.5" r="5.2" fill="#ff7f0e"/>
<circle cx="914.4" cy="711.8" r="5.2" fill="#ff7f0e"/>
<circle cx="951.1" cy="707.2" r="5.2" fill="#ff7f0e"/>
<circle cx="977.3" cy="698.4" r="5.2" fill="#ff7f0e"/>
<circle cx="1006.5" cy="688.8" r="5.2" fill="#ff7f0e"/>
<circle cx="1040.7" cy="684.6" r="5.2" fill="#ff7f0e"/>
<circle cx="1099.7" cy="687.1" r="5.2" fill="#ff7f0e"/>
<circle cx="1131.7" cy="689.8" r="5.2" fill="#ff7f0e"/>
<circle cx="1166.9" cy="691.1" r="5.2" fill="#ff7f0e"/>
<circle cx="1202.2" cy="689.8" r="5.2" fill="#ff7f0e"/>
<circle cx="1238.7" cy="689.3" r="5.2" fill="#ff7f0e"/>
<circle cx="1293.4" cy="696.6" r="5.2" fill="#ff7f0e"/>
<rect x="147" y="614.4" width="2.0" height="286.05" fill="#b0b0b0"/>
<rect x="289" y="614.4" width="2.0" height="286.05" fill="#b0b0b0"/>
<rect x="431" y="614.4" width="2.0" height="286.05" fill="#b0b0b0"/>
<rect x="573" y="614.4" width="2.0" height="286.05" fill="#b0b0b0"/>
<rect x="715" y="614.4" width="2.0" height="286.05" fill="#b0b0b0"/>
<rect x="857" y="614.4" width="2.0" height="286.05" fill="#b0b0b0"/>
<rect x="999" y="614.4" width="2.0" height="286.05" fill="#b0b0b0"/>
<rect x="1141" y="614.4" width="2.0" height="286.05" fill="#b0b0b0"/>
<rect x="1283" y="614.4" width="2.0" height="286.05" fill="#b0b0b0"/>
<rect x="101.0" y="710.00" width="1249.0" height="2.0" fill="#b0b0b0"/>
<rect x="101.0" y="820.40" width="1249.0" height="2.0" fill="#b0b0b0"/>
<path d="M157.7 835.0 L159.5 835.0 L161.3 835.0 L163.0 835.1 L164.8 835.1 L166.6 835.1 L168.4 835.1 L170.1 835.1 L171.9 835.2 L173.7 835.2 L175.5 835.2 L177.3 835.2 L179.0 835.3 L180.8 835.3 L182.6 835.3 L184.4 835.4 L186.1 835.4 L187.9 835.5 L189.7 835.5 L191.5 835.5 L193.2 835.6 L195.0 835.6 L196.8 835.7 L198.6 835.8 L200.4 835.8 L202.1 835.9 L203.9 835.9 L205.7 836.0 L207.5 836.0 L209.2 836.1 L211.0 836.2 L212.8 836.2 L214.6 836.3 L216.4 836.3 L218.1 836.4 L219.9 836.4 L221.7 836.5 L223.5 836.5 L225.2 836.6 L227.0 836.6 L228.8 836.7 L230.6 836.7 L232.3 836.8 L234.1 836.8 L235.9 836.8 L237.7 836.9 L239.5 836.9 L241.2 836.9 L243.0 837.0 L244.8 837.0 L246.6 837.1 L248.3 837.1 L250.1 837.1 L251.9 837.2 L253.7 837.2 L255.5 837.2 L257.2 837.3 L259.0 837.3 L260.8 837.4 L262.6 837.4 L264.3 837.5 L266.1 837.5 L267.9 837.6 L269.7 837.6 L271.4 837.7 L273.2 837.7 L275.0 837.8 L276.8 837.8 L278.6 837.9 L280.3 837.9 L282.1 838.0 L283.9 838.0 L285.7 838.0 L287.4 838.1 L289.2 838.1 L291.0 838.2 L292.8 838.2 L294.6 838.3 L296.3 838.3 L298.1 838.3 L299.9 838.4 L301.7 838.4 L303.4 838.5 L305.2 838.5 L307.0 838.6 L308.8 838.6 L310.5 838.7 L312.3 838.7 L314.1 838.7 L315.9 838.8 L317.7 838.8 L319.4 838.9 L321.2 838.9 L323.0 839.0 L324.8 839.0 L326.5 839.1 L328.3 839.1 L330.1 839.1 L331.9 839.2 L333.7 839.2 L335.4 839.3 L337.2 839.3 L339.0 839.4 L340.8 839.4 L342.5 839.4 L344.3 839.5 L346.1 839.5 L347.9 839.6 L349.6 839.6 L351.4 839.7 L353.2 839.7 L355.0 839.7 L356.8 839.8 L358.5 839.8 L360.3 839.9 L362.1 839.9 L363.9 840.0 L365.6 840.0 L367.4 840.0 L369.2 840.1 L371.0 840.1 L372.8 840.2 L374.5 840.2 L376.3 840.2 L378.1 840.3 L379.9 840.3 L381.6 840.3 L383.4 840.4 L385.2 840.4 L387.0 840.4 L388.8 840.4 L390.5 840.5 L392.3 840.5 L394.1 840.5 L395.9 840.6 L397.6 840.6 L399.4 840.6 L401.2 840.6 L403.0 840.7 L404.7 840.7 L406.5 840.7 L408.3 840.8 L410.1 840.8 L411.9 840.8 L413.6 840.9 L415.4 840.9 L417.2 841.0 L419.0 841.0 L420.7 841.0 L422.5 841.1 L424.3 841.1 L426.1 841.1 L427.9 841.2 L429.6 841.2 L431.4 841.3 L433.2 841.3 L435.0 841.3 L436.7 841.4 L438.5 841.4 L440.3 841.5 L442.1 841.5 L443.8 841.5 L445.6 841.6 L447.4 841.6 L449.2 841.6 L451.0 841.7 L452.7 841.7 L454.5 841.7 L456.3 841.8 L458.1 841.8 L459.8 841.8 L461.6 841.8 L463.4 841.9 L465.2 841.9 L467.0 841.9 L468.7 841.9 L470.5 842.0 L472.3 842.0 L474.1 842.0 L475.8 842.0 L477.6 842.0 L479.4 842.0 L481.2 842.1 L482.9 842.1 L484.7 842.1 L486.5 842.1 L488.3 842.1 L490.1 842.1 L491.8 842.1 L493.6 842.1 L495.4 842.1 L497.2 842.2 L498.9 842.2 L500.7 842.2 L502.5 842.2 L504.3 842.2 L506.1 842.2 L507.8 842.2 L509.6 842.2 L511.4 842.2 L513.2 842.2 L514.9 842.2 L516.7 842.2 L518.5 842.2 L520.3 842.2 L522.0 842.2 L523.8 842.2 L525.6 842.2 L527.4 842.2 L529.2 842.2 L530.9 842.2 L532.7 842.2 L534.5 842.2 L536.3 842.2 L538.0 842.2 L539.8 842.1 L541.6 842.0 L543.4 841.9 L545.2 841.7 L546.9 841.6 L548.7 841.4 L550.5 841.2 L552.3 841.0 L554.0 840.7 L555.8 840.5 L557.6 840.3 L559.4 840.0 L561.1 839.7 L562.9 839.4 L564.7 839.0 L566.5 838.6 L568.3 838.2 L570.0 837.7 L571.8 837.2 L573.6 836.8 L575.4 836.3 L577.1 835.8 L578.9 835.3 L580.7 834.9 L582.5 834.4 L584.3 834.0 L586.0 833.4 L587.8 832.7 L589.6 831.8 L591.4 830.6 L593.1 829.1 L594.9 827.3 L596.7 825.4 L598.5 823.3 L600.2 821.1 L602.0 818.8 L603.8 816.4 L605.6 814.0 L607.4 811.6 L609.1 809.2 L610.9 806.9 L612.7 804.5 L614.5 802.1 L616.2 799.7 L618.0 797.3 L619.8 794.9 L621.6 792.5 L623.4 790.1 L625.1 787.6 L626.9 785.2 L628.7 782.9 L630.5 780.7 L632.2 778.5 L634.0 776.3 L635.8 774.0 L637.6 771.5 L639.4 768.7 L641.1 765.7 L642.9 762.2 L644.7 758.3 L646.5 754.0 L648.2 749.5 L650.0 744.8 L651.8 740.0 L653.6 735.0 L655.3 730.0 L657.1 724.9 L658.9 719.8 L660.7 714.8 L662.5 709.8 L664.2 704.8 L666.0 699.8 L667.8 694.9 L669.6 690.0 L671.3 685.3 L673.1 680.9 L674.9 676.6 L676.7 672.6 L678.5 669.0 L680.2 665.6 L682.0 662.0 L683.8 657.9 L685.6 652.9 L687.3 648.1 L689.1 644.3 L690.9 641.0 L692.7 637.9 L694.4 635.1 L696.2 632.5 L698.0 630.7 L699.8 629.6 L701.6 628.5 L703.3 628.2 L705.1 629.0 L706.9 630.3 L708.7 631.8 L710.4 633.5 L712.2 635.3 L714.0 637.1 L715.8 639.1 L717.6 641.3 L719.3 643.9 L721.1 646.6 L722.9 649.1 L724.7 651.4 L726.4 653.6 L728.2 655.3 L730.0 656.3 L731.8 657.0 L733.5 657.4 L735.3 657.7 L737.1 657.9 L738.9 658.0 L740.7 658.1 L742.4 658.5 L744.2 659.1 L746.0 659.8 L747.8 660.7 L749.5 661.7 L751.3 662.9 L753.1 664.7 L754.9 666.9 L756.7 668.9 L758.4 670.9 L760.2 672.8 L762.0 674.7 L763.8 676.7 L765.5 678.4 L767.3 679.4 L769.1 679.7 L770.9 679.8 L772.6 679.9 L774.4 680.0 L776.2 680.2 L778.0 680.3 L779.8 680.5 L781.5 680.5 L783.3 680.2 L785.1 679.8 L786.9 679.4 L788.6 679.3 L790.4 679.4 L792.2 679.5 L794.0 679.7 L795.8 679.9 L797.5 680.1 L799.3 680.4 L801.1 680.7 L802.9 681.0 L804.6 681.4 L806.4 681.9 L808.2 682.3 L810.0 682.9 L811.7 683.4 L813.5 683.9 L815.3 684.5 L817.1 685.0 L818.9 685.6 L820.6 686.1 L822.4 686.7 L824.2 687.3 L826.0 687.8 L827.7 688.4 L829.5 689.0 L831.3 689.6 L833.1 690.2 L834.9 690.8 L836.6 691.4 L838.4 692.0 L840.2 692.6 L842.0 693.2 L843.7 693.9 L845.5 694.5 L847.3 695.1 L849.1 695.8 L850.9 696.4 L852.6 697.1 L854.4 697.9 L856.2 698.6 L858.0 699.4 L859.7 700.2 L861.5 700.9 L863.3 701.7 L865.1 702.5 L866.8 703.2 L868.6 703.9 L870.4 704.6 L872.2 705.3 L874.0 705.9 L875.7 706.5 L877.5 707.0 L879.3 707.5 L881.1 708.0 L882.8 708.5 L884.6 708.9 L886.4 709.2 L888.2 709.6 L890.0 709.9 L891.7 710.2 L893.5 710.5 L895.3 710.7 L897.1 710.9 L898.8 711.1 L900.6 711.3 L902.4 711.4 L904.2 711.5 L905.9 711.6 L907.7 711.7 L909.5 711.7 L911.3 711.8 L913.1 711.8 L914.8 711.8 L916.6 711.8 L918.4 711.8 L920.2 711.7 L921.9 711.7 L923.7 711.6 L925.5 711.6 L927.3 711.5 L929.1 711.3 L930.8 711.2 L932.6 711.0 L934.4 710.8 L936.2 710.6 L937.9 710.3 L939.7 710.0 L941.5 709.7 L943.3 709.3 L945.0 708.9 L946.8 708.5 L948.6 708.0 L950.4 707.4 L952.2 706.9 L953.9 706.3 L955.7 705.7 L957.5 705.1 L959.3 704.5 L961.0 703.9 L962.8 703.3 L964.6 702.7 L966.4 702.1 L968.2 701.5 L969.9 700.9 L971.7 700.3 L973.5 699.7 L975.3 699.1 L977.0 698.5 L978.8 697.9 L980.6 697.3 L982.4 696.7 L984.1 696.1 L985.9 695.5 L987.7 694.9 L989.5 694.4 L991.3 693.8 L993.0 693.2 L994.8 692.6 L996.6 692.0 L998.4 691.4 L1000.1 690.9 L1001.9 690.3 L1003.7 689.7 L1005.5 689.1 L1007.3 688.6 L1009.0 688.0 L1010.8 687.6 L1012.6 687.1 L1014.4 686.7 L1016.1 686.4 L1017.9 686.0 L1019.7 685.8 L1021.5 685.5 L1023.2 685.3 L1025.0 685.1 L1026.8 685.0 L1028.6 684.8 L1030.4 684.7 L1032.1 684.7 L1033.9 684.6 L1035.7 684.6 L1037.5 684.6 L1039.2 684.6 L1041.0 684.6 L1042.8 684.6 L1044.6 684.7 L1046.4 684.7 L1048.1 684.7 L1049.9 684.8 L1051.7 684.8 L1053.5 684.9 L1055.2 684.9 L1057.0 684.9 L1058.8 685.0 L1060.6 685.1 L1062.3 685.1 L1064.1 685.2 L1065.9 685.2 L1067.7 685.3 L1069.5 685.4 L1071.2 685.4 L1073.0 685.5 L1074.8 685.6 L1076.6 685.7 L1078.3 685.8 L1080.1 685.9 L1081.9 686.0 L1083.7 686.1 L1085.5 686.2 L1087.2 686.3 L1089.0 686.4 L1090.8 686.5 L1092.6 686.6 L1094.3 686.7 L1096.1 686.8 L1097.9 687.0 L1099.7 687.1 L1101.5 687.2 L1103.2 687.4 L1105.0 687.5 L1106.8 687.7 L1108.6 687.8 L1110.3 688.0 L1112.1 688.2 L1113.9 688.3 L1115.7 688.5 L1117.4 688.6 L1119.2 688.8 L1121.0 689.0 L1122.8 689.1 L1124.6 689.3 L1126.3 689.4 L1128.1 689.5 L1129.9 689.7 L1131.7 689.8 L1133.4 689.9 L1135.2 690.0 L1137.0 690.1 L1138.8 690.3 L1140.6 690.4 L1142.3 690.5 L1144.1 690.6 L1145.9 690.6 L1147.7 690.7 L1149.4 690.8 L1151.2 690.9 L1153.0 690.9 L1154.8 691.0 L1156.5 691.0 L1158.3 691.1 L1160.1 691.1 L1161.9 691.1 L1163.7 691.1 L1165.4 691.1 L1167.2 691.1 L1169.0 691.1 L1170.8 691.0 L1172.5 691.0 L1174.3 690.9 L1176.1 690.9 L1177.9 690.8 L1179.7 690.7 L1181.4 690.7 L1183.2 690.6 L1185.0 690.5 L1186.8 690.4 L1188.5 690.3 L1190.3 690.3 L1192.1 690.2 L1193.9 690.1 L1195.6 690.0 L1197.4 690.0 L1199.2 689.9 L1201.0 689.8 L1202.8 689.8 L1204.5 689.7 L1206.3 689.7 L1208.1 689.6 L1209.9 689.6 L1211.6 689.6 L1213.4 689.5 L1215.2 689.5 L1217.0 689.4 L1218.8 689.4 L1220.5 689.4 L1222.3 689.4 L1224.1 689.3 L1225.9 689.3 L1227.6 689.3 L1229.4 689.3 L1231.2 689.3 L1233.0 689.3 L1234.7 689.3 L1236.5 689.3 L1238.3 689.3 L1240.1 689.3 L1241.9 689.4 L1243.6 689.4 L1245.4 689.5 L1247.2 689.6 L1249.0 689.7 L1250.7 689.8 L1252.5 690.0 L1254.3 690.1 L1256.1 690.3 L1257.9 690.5 L1259.6 690.7 L1261.4 690.9 L1263.2 691.2 L1265.0 691.4 L1266.7 691.7 L1268.5 692.0 L1270.3 692.2 L1272.1 692.5 L1273.8 692.8 L1275.6 693.1 L1277.4 693.5 L1279.2 693.8 L1281.0 694.1 L1282.7 694.5 L1284.5 694.8 L1286.3 695.2 L1288.1 695.5 L1289.8 695.9 L1291.6 696.2 L1293.4 696.6" fill="none" stroke="#808080" stroke-opacity="0.5" stroke-width="3.9" stroke-dasharray="13.7 6" stroke-linejoin="round"/>
<path d="M157.7 835.0 L159.5 835.4 L161.3 835.8 L163.0 836.1 L164.8 836.3 L166.6 836.4 L168.4 836.5 L170.1 836.6 L171.9 836.6 L173.7 836.6 L175.5 836.5 L177.3 836.4 L179.0 836.3 L180.8 836.2 L182.6 836.0 L184.4 835.9 L186.1 835.7 L187.9 835.6 L189.7 835.5 L191.5 835.4 L193.2 835.3 L195.0 835.2 L196.8 835.2 L198.6 835.1 L200.4 835.1 L202.1 835.1 L203.9 835.2 L205.7 835.2 L207.5 835.3 L209.2 835.4 L211.0 835.5 L212.8 835.6 L214.6 835.7 L216.4 835.8 L218.1 835.9 L219.9 836.1 L221.7 836.2 L223.5 836.3 L225.2 836.4 L227.0 836.6 L228.8 836.7 L230.6 836.8 L232.3 836.8 L234.1 836.9 L235.9 837.0 L237.7 837.0 L239.5 837.1 L241.2 837.1 L243.0 837.1 L244.8 837.2 L246.6 837.2 L248.3 837.2 L250.1 837.2 L251.9 837.2 L253.7 837.3 L255.5 837.3 L257.2 837.3 L259.0 837.3 L260.8 837.3 L262.6 837.4 L264.3 837.4 L266.1 837.5 L267.9 837.5 L269.7 837.6 L271.4 837.6 L273.2 837.7 L275.0 837.7 L276.8 837.8 L278.6 837.8 L280.3 837.9 L282.1 837.9 L283.9 838.0 L285.7 838.0 L287.4 838.1 L289.2 838.1 L291.0 838.2 L292.8 838.2 L294.6 838.3 L296.3 838.3 L298.1 838.3 L299.9 838.4 L301.7 838.4 L303.4 838.5 L305.2 838.5 L307.0 838.5 L308.8 838.6 L310.5 838.6 L312.3 838.7 L314.1 838.7 L315.9 838.8 L317.7 838.8 L319.4 838.9 L321.2 838.9 L323.0 839.0 L324.8 839.0 L326.5 839.0 L328.3 839.1 L330.1 839.1 L331.9 839.2 L333.7 839.2 L335.4 839.3 L337.2 839.3 L339.0 839.3 L340.8 839.4 L342.5 839.4 L344.3 839.5 L346.1 839.5 L347.9 839.6 L349.6 839.6 L351.4 839.7 L353.2 839.7 L355.0 839.8 L356.8 839.8 L358.5 839.8 L360.3 839.9 L362.1 839.9 L363.9 840.0 L365.6 840.0 L367.4 840.0 L369.2 840.1 L371.0 840.1 L372.8 840.1 L374.5 840.1 L376.3 840.1 L378.1 840.2 L379.9 840.2 L381.6 840.2 L383.4 840.2 L385.2 840.3 L387.0 840.3 L388.8 840.3 L390.5 840.3 L392.3 840.4 L394.1 840.4 L395.9 840.5 L397.6 840.5 L399.4 840.5 L401.2 840.6 L403.0 840.6 L404.7 840.7 L406.5 840.7 L408.3 840.8 L410.1 840.8 L411.9 840.8 L413.6 840.9 L415.4 840.9 L417.2 841.0 L419.0 841.0 L420.7 841.0 L422.5 841.1 L424.3 841.1 L426.1 841.1 L427.9 841.2 L429.6 841.2 L431.4 841.2 L433.2 841.3 L435.0 841.3 L436.7 841.4 L438.5 841.4 L440.3 841.4 L442.1 841.5 L443.8 841.5 L445.6 841.6 L447.4 841.6 L449.2 841.6 L451.0 841.7 L452.7 841.7 L454.5 841.7 L456.3 841.8 L458.1 841.8 L459.8 841.8 L461.6 841.8 L463.4 841.9 L465.2 841.9 L467.0 841.9 L468.7 841.9 L470.5 842.0 L472.3 842.0 L474.1 842.0 L475.8 842.0 L477.6 842.0 L479.4 842.0 L481.2 842.1 L482.9 842.1 L484.7 842.1 L486.5 842.1 L488.3 842.1 L490.1 842.1 L491.8 842.1 L493.6 842.1 L495.4 842.2 L497.2 842.2 L498.9 842.2 L500.7 842.2 L502.5 842.2 L504.3 842.2 L506.1 842.2 L507.8 842.2 L509.6 842.2 L511.4 842.2 L513.2 842.2 L514.9 842.2 L516.7 842.2 L518.5 842.2 L520.3 842.2 L522.0 842.2 L523.8 842.2 L525.6 842.2 L527.4 842.2 L529.2 842.2 L530.9 842.2 L532.7 842.2 L534.5 842.2 L536.3 842.2 L538.0 842.2 L539.8 842.1 L541.6 842.1 L543.4 842.0 L545.2 841.9 L546.9 841.8 L548.7 841.6 L550.5 841.4 L552.3 841.2 L554.0 840.9 L555.8 840.6 L557.6 840.3 L559.4 839.9 L561.1 839.5 L562.9 839.1 L564.7 838.7 L566.5 838.2 L568.3 837.8 L570.0 837.4 L571.8 837.0 L573.6 836.5 L575.4 836.1 L577.1 835.7 L578.9 835.3 L580.7 834.9 L582.5 834.4 L584.3 833.8 L586.0 833.2 L587.8 832.4 L589.6 831.4 L591.4 830.3 L593.1 829.0 L594.9 827.5 L596.7 825.7 L598.5 823.8 L600.2 821.7 L602.0 819.4 L603.8 817.0 L605.6 814.4 L607.4 811.8 L609.1 809.2 L610.9 806.5 L612.7 803.9 L614.5 801.3 L616.2 798.8 L618.0 796.3 L619.8 793.9 L621.6 791.6 L623.4 789.4 L625.1 787.3 L626.9 785.2 L628.7 783.1 L630.5 781.1 L632.2 779.0 L634.0 776.7 L635.8 774.3 L637.6 771.7 L639.4 768.8 L641.1 765.6 L642.9 762.1 L644.7 758.3 L646.5 754.1 L648.2 749.7 L650.0 745.0 L651.8 740.1 L653.6 735.0 L655.3 729.9 L657.1 724.7 L658.9 719.7 L660.7 714.7 L662.5 709.8 L664.2 705.1 L666.0 700.6 L667.8 696.2 L669.6 691.9 L671.3 687.7 L673.1 683.5 L674.9 679.4 L676.7 675.2 L678.5 671.0 L680.2 666.7 L682.0 662.3 L683.8 657.9 L685.6 653.5 L687.3 649.3 L689.1 645.2 L690.9 641.3 L692.7 637.9 L694.4 634.9 L696.2 632.5 L698.0 630.7 L699.8 629.5 L701.6 628.9 L703.3 628.9 L705.1 629.4 L706.9 630.4 L708.7 631.8 L710.4 633.5 L712.2 635.5 L714.0 637.6 L715.8 639.8 L717.6 642.1 L719.3 644.3 L721.1 646.5 L722.9 648.6 L724.7 650.5 L726.4 652.2 L728.2 653.7 L730.0 655.0 L731.8 656.1 L733.5 657.0 L735.3 657.7 L737.1 658.2 L738.9 658.6 L740.7 659.0 L742.4 659.3 L744.2 659.7 L746.0 660.3 L747.8 661.0 L749.5 661.9 L751.3 663.0 L753.1 664.4 L754.9 666.1 L756.7 667.9 L758.4 669.9 L760.2 671.9 L762.0 673.9 L763.8 675.8 L765.5 677.6 L767.3 679.1 L769.1 680.3 L770.9 681.3 L772.6 681.9 L774.4 682.3 L776.2 682.3 L778.0 682.2 L779.8 681.8 L781.5 681.4 L783.3 680.8 L785.1 680.3 L786.9 679.7 L788.6 679.2 L790.4 678.9 L792.2 678.6 L794.0 678.5 L795.8 678.6 L797.5 678.8 L799.3 679.1 L801.1 679.5 L802.9 680.1 L804.6 680.7 L806.4 681.4 L808.2 682.1 L810.0 682.9 L811.7 683.6 L813.5 684.4 L815.3 685.1 L817.1 685.9 L818.9 686.5 L820.6 687.2 L822.4 687.8 L824.2 688.4 L826.0 689.0 L827.7 689.5 L829.5 690.1 L831.3 690.6 L833.1 691.0 L834.9 691.5 L836.6 692.0 L838.4 692.5 L840.2 693.0 L842.0 693.5 L843.7 694.0 L845.5 694.6 L847.3 695.2 L849.1 695.8 L850.9 696.4 L852.6 697.1 L854.4 697.8 L856.2 698.5 L858.0 699.3 L859.7 700.0 L861.5 700.8 L863.3 701.6 L865.1 702.3 L866.8 703.1 L868.6 703.8 L870.4 704.6 L872.2 705.3 L874.0 705.9 L875.7 706.6 L877.5 707.2 L879.3 707.7 L881.1 708.3 L882.8 708.8 L884.6 709.2 L886.4 709.6 L888.2 710.0 L890.0 710.3 L891.7 710.6 L893.5 710.9 L895.3 711.1 L897.1 711.3 L898.8 711.4 L900.6 711.6 L902.4 711.7 L904.2 711.7 L905.9 711.8 L907.7 711.8 L909.5 711.8 L911.3 711.8 L913.1 711.8 L914.8 711.8 L916.6 711.7 L918.4 711.7 L920.2 711.6 L921.9 711.5 L923.7 711.4 L925.5 711.3 L927.3 711.1 L929.1 711.0 L930.8 710.8 L932.6 710.6 L934.4 710.4 L936.2 710.2 L937.9 709.9 L939.7 709.6 L941.5 709.3 L943.3 709.0 L945.0 708.6 L946.8 708.2 L948.6 707.8 L950.4 707.4 L952.2 706.9 L953.9 706.4 L955.7 705.9 L957.5 705.4 L959.3 704.8 L961.0 704.3 L962.8 703.7 L964.6 703.1 L966.4 702.4 L968.2 701.8 L969.9 701.1 L971.7 700.5 L973.5 699.8 L975.3 699.2 L977.0 698.5 L978.8 697.8 L980.6 697.2 L982.4 696.5 L984.1 695.9 L985.9 695.2 L987.7 694.6 L989.5 693.9 L991.3 693.3 L993.0 692.7 L994.8 692.2 L996.6 691.6 L998.4 691.0 L1000.1 690.5 L1001.9 690.0 L1003.7 689.5 L1005.5 689.1 L1007.3 688.6 L1009.0 688.2 L1010.8 687.8 L1012.6 687.4 L1014.4 687.1 L1016.1 686.8 L1017.9 686.5 L1019.7 686.2 L1021.5 686.0 L1023.2 685.7 L1025.0 685.5 L1026.8 685.3 L1028.6 685.2 L1030.4 685.0 L1032.1 684.9 L1033.9 684.8 L1035.7 684.7 L1037.5 684.7 L1039.2 684.6 L1041.0 684.6 L1042.8 684.6 L1044.6 684.6 L1046.4 684.6 L1048.1 684.6 L1049.9 684.7 L1051.7 684.8 L1053.5 684.8 L1055.2 684.9 L1057.0 685.0 L1058.8 685.0 L1060.6 685.1 L1062.3 685.2 L1064.1 685.3 L1065.9 685.4 L1067.7 685.5 L1069.5 685.6 L1071.2 685.7 L1073.0 685.7 L1074.8 685.8 L1076.6 685.9 L1078.3 686.0 L1080.1 686.1 L1081.9 686.2 L1083.7 686.2 L1085.5 686.3 L1087.2 686.4 L1089.0 686.5 L1090.8 686.6 L1092.6 686.7 L1094.3 686.8 L1096.1 686.9 L1097.9 687.0 L1099.7 687.1 L1101.5 687.2 L1103.2 687.3 L1105.0 687.5 L1106.8 687.6 L1108.6 687.8 L1110.3 687.9 L1112.1 688.1 L1113.9 688.2 L1115.7 688.4 L1117.4 688.6 L1119.2 688.7 L1121.0 688.9 L1122.8 689.0 L1124.6 689.2 L1126.3 689.3 L1128.1 689.5 L1129.9 689.7 L1131.7 689.8 L1133.4 689.9 L1135.2 690.1 L1137.0 690.2 L1138.8 690.3 L1140.6 690.4 L1142.3 690.5 L1144.1 690.6 L1145.9 690.7 L1147.7 690.8 L1149.4 690.9 L1151.2 690.9 L1153.0 691.0 L1154.8 691.0 L1156.5 691.1 L1158.3 691.1 L1160.1 691.1 L1161.9 691.1 L1163.7 691.1 L1165.4 691.1 L1167.2 691.1 L1169.0 691.1 L1170.8 691.0 L1172.5 691.0 L1174.3 691.0 L1176.1 690.9 L1177.9 690.9 L1179.7 690.8 L1181.4 690.7 L1183.2 690.7 L1185.0 690.6 L1186.8 690.5 L1188.5 690.4 L1190.3 690.3 L1192.1 690.3 L1193.9 690.2 L1195.6 690.1 L1197.4 690.0 L1199.2 689.9 L1201.0 689.9 L1202.8 689.8 L1204.5 689.7 L1206.3 689.6 L1208.1 689.6 L1209.9 689.5 L1211.6 689.5 L1213.4 689.4 L1215.2 689.4 L1217.0 689.3 L1218.8 689.3 L1220.5 689.3 L1222.3 689.2 L1224.1 689.2 L1225.9 689.2 L1227.6 689.2 L1229.4 689.2 L1231.2 689.2 L1233.0 689.2 L1234.7 689.2 L1236.5 689.3 L1238.3 689.3 L1240.1 689.3 L1241.9 689.4 L1243.6 689.4 L1245.4 689.5 L1247.2 689.6 L1249.0 689.7 L1250.7 689.8 L1252.5 689.9 L1254.3 690.0 L1256.1 690.1 L1257.9 690.3 L1259.6 690.4 L1261.4 690.6 L1263.2 690.7 L1265.0 690.9 L1266.7 691.1 L1268.5 691.3 L1270.3 691.5 L1272.1 691.8 L1273.8 692.0 L1275.6 692.3 L1277.4 692.6 L1279.2 693.0 L1281.0 693.3 L1282.7 693.7 L1284.5 694.1 L1286.3 694.5 L1288.1 695.0 L1289.8 695.5 L1291.6 696.0 L1293.4 696.6" fill="none" stroke="#1f77b4" stroke-width="3.0" stroke-linejoin="round" stroke-linecap="square"/>
</g>
<rect x="92.2" y="709.90" width="8.5" height="2.2" fill="#000"/>
<rect x="92.2" y="820.30" width="8.5" height="2.2" fill="#000"/>
</g>
<rect x="147" y="900.45" width="2" height="8.6" fill="#000"/>
<rect x="289" y="900.45" width="2" height="8.6" fill="#000"/>
<rect x="431" y="900.45" width="2" height="8.6" fill="#000"/>
<rect x="573" y="900.45" width="2" height="8.6" fill="#000"/>
<rect x="715" y="900.45" width="2" height="8.6" fill="#000"/>
<rect x="857" y="900.45" width="2" height="8.6" fill="#000"/>
<rect x="999" y="900.45" width="2" height="8.6" fill="#000"/>
<rect x="1141" y="900.45" width="2" height="8.6" fill="#000"/>
<rect x="1283" y="900.45" width="2" height="8.6" fill="#000"/>
<rect x="99.95" y="41.45" width="1251.10" height="2.30" fill="#000"/>
<rect x="99.95" y="327.25" width="1251.10" height="2.30" fill="#000"/>
<rect x="99.95" y="613.25" width="1251.10" height="2.30" fill="#000"/>
<rect x="99.95" y="899.30" width="1251.10" height="2.30" fill="#000"/>
<rect x="100.00" y="41.55" width="2.00" height="859.95" fill="#000"/>
<rect x="1349.00" y="41.55" width="2.00" height="859.95" fill="#000"/>
<g id="legend">
<path d="M132 86 H201.9" stroke="#808080" stroke-opacity="0.5" stroke-width="3.9" stroke-dasharray="13.75 6" fill="none"/>
<path d="M132.3 134.4 H201.4" stroke="#1f77b4" stroke-width="3.0" stroke-linecap="square" fill="none"/>
<circle cx="166.8" cy="185.5" r="5.3" fill="#ff7f0e"/>
<text x="229.03" y="97.90" font-size="34" textLength="111.35" lengthAdjust="spacingAndGlyphs">Ground</text>
<text x="352.42" y="97.90" font-size="34" textLength="75.94" lengthAdjust="spacingAndGlyphs">truth</text>
<text x="229.56" y="145.80" font-size="34" textLength="140.01" lengthAdjust="spacingAndGlyphs">Measured</text>
<text x="229.56" y="194.70" font-size="34" textLength="140.01" lengthAdjust="spacingAndGlyphs">Measured</text>
</g>
<text x="644.06" y="28.30" font-size="42.5" textLength="38.71" lengthAdjust="spacingAndGlyphs">10</text>
<text x="698.82" y="28.30" font-size="41" textLength="107.92" lengthAdjust="spacingAndGlyphs">points</text>
<text x="643.87" y="314.20" font-size="42.5" textLength="38.90" lengthAdjust="spacingAndGlyphs">25</text>
<text x="698.82" y="314.20" font-size="41" textLength="107.92" lengthAdjust="spacingAndGlyphs">points</text>
<text x="644.09" y="600.20" font-size="42.5" textLength="38.67" lengthAdjust="spacingAndGlyphs">40</text>
<text x="698.82" y="600.20" font-size="41" textLength="107.92" lengthAdjust="spacingAndGlyphs">points</text>
<text x="40.06" y="150.95" font-size="36" textLength="44.12" lengthAdjust="spacingAndGlyphs">1.0</text>
<text x="41.35" y="261.20" font-size="36" textLength="42.80" lengthAdjust="spacingAndGlyphs">0.5</text>
<text x="40.06" y="436.95" font-size="36" textLength="44.12" lengthAdjust="spacingAndGlyphs">1.0</text>
<text x="41.35" y="547.15" font-size="36" textLength="42.80" lengthAdjust="spacingAndGlyphs">0.5</text>
<text x="40.06" y="722.95" font-size="36" textLength="44.12" lengthAdjust="spacingAndGlyphs">1.0</text>
<text x="41.35" y="833.10" font-size="36" textLength="42.80" lengthAdjust="spacingAndGlyphs">0.5</text>
<text x="114.37" y="942.00" font-size="36" textLength="67.06" lengthAdjust="spacingAndGlyphs">8920</text>
<text x="256.42" y="942.00" font-size="36" textLength="67.06" lengthAdjust="spacingAndGlyphs">8940</text>
<text x="398.47" y="942.00" font-size="36" textLength="67.06" lengthAdjust="spacingAndGlyphs">8960</text>
<text x="540.52" y="942.00" font-size="36" textLength="67.06" lengthAdjust="spacingAndGlyphs">8980</text>
<text x="682.57" y="942.00" font-size="36" textLength="67.06" lengthAdjust="spacingAndGlyphs">9000</text>
<text x="824.62" y="942.00" font-size="36" textLength="67.06" lengthAdjust="spacingAndGlyphs">9020</text>
<text x="966.67" y="942.00" font-size="36" textLength="67.06" lengthAdjust="spacingAndGlyphs">9040</text>
<text x="1108.72" y="942.00" font-size="36" textLength="67.06" lengthAdjust="spacingAndGlyphs">9060</text>
<text x="1250.77" y="942.00" font-size="36" textLength="67.06" lengthAdjust="spacingAndGlyphs">9080</text>
<text x="634.47" y="984.40" font-size="34" textLength="100.53" lengthAdjust="spacingAndGlyphs">Energy</text>
<text x="750.41" y="984.40" font-size="34" textLength="65.15" lengthAdjust="spacingAndGlyphs">(eV)</text>
<text transform="translate(24.00 311.85) rotate(-90)" font-size="34" textLength="83.06" lengthAdjust="spacingAndGlyphs">X-ray</text>
<text transform="translate(24.00 215.48) rotate(-90)" font-size="34" textLength="154.87" lengthAdjust="spacingAndGlyphs">absorption</text>
<text transform="translate(24.00 597.85) rotate(-90)" font-size="34" textLength="83.06" lengthAdjust="spacingAndGlyphs">X-ray</text>
<text transform="translate(24.00 501.48) rotate(-90)" font-size="34" textLength="154.87" lengthAdjust="spacingAndGlyphs">absorption</text>
<text transform="translate(24.00 883.85) rotate(-90)" font-size="34" textLength="83.06" lengthAdjust="spacingAndGlyphs">X-ray</text>
<text transform="translate(24.00 787.48) rotate(-90)" font-size="34" textLength="154.87" lengthAdjust="spacingAndGlyphs">absorption</text>
</svg>
</body></html>
